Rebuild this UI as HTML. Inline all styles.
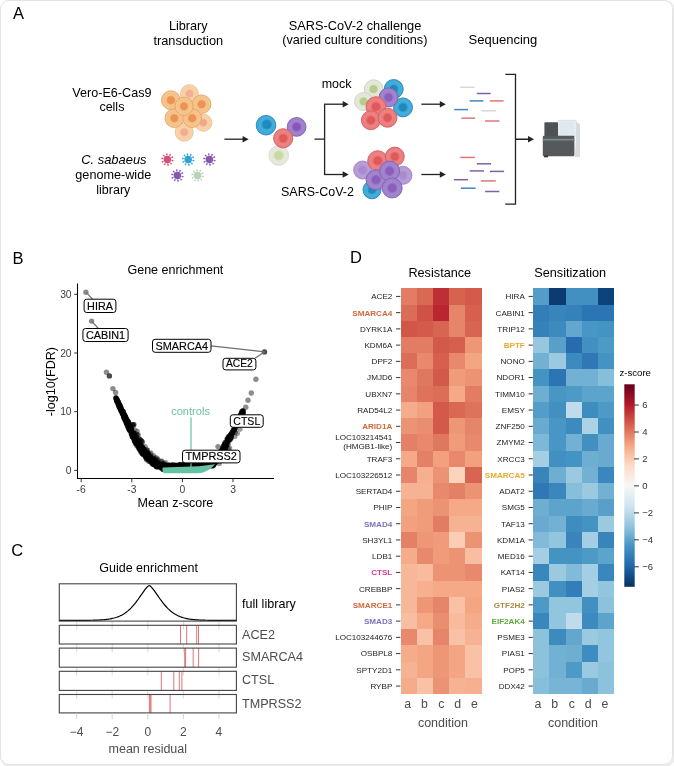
<!DOCTYPE html>
<html><head><meta charset="utf-8"><style>
html,body{margin:0;padding:0;background:#fff;}
#fig{position:relative;width:674px;height:766px;overflow:hidden;background:#fff;}
#frame{position:absolute;left:0;top:0;width:671px;height:763px;border:1px solid #e3e3e3;border-radius:9px;box-shadow:1px 1px 0 1px #ececec;}
svg{position:absolute;left:0;top:0;font-family:'Liberation Sans', Arial, Helvetica, sans-serif;will-change:transform;}
</style></head><body><div id="fig"><div id="frame"></div>
<svg width="674" height="766" viewBox="0 0 674 766">
<text x="12.90" y="19.20" font-size="16.5" text-anchor="start" fill="#000">A</text>
<text x="188.30" y="30.00" font-size="12.7" text-anchor="middle" fill="#000">Library</text>
<text x="188.30" y="44.90" font-size="12.8" text-anchor="middle" fill="#000">transduction</text>
<g text-anchor="middle">
</g>
<g opacity="1.0">
<circle cx="189.4" cy="93.6" r="8.9" fill="#f8d3a8" stroke="#eec08e" stroke-width="0.9"/>
<circle cx="189.4" cy="93.6" r="6.2" fill="none" stroke="#f0c594" stroke-width="0.7" stroke-opacity="0.6"/>
<circle cx="189.4" cy="93.6" r="4.8" fill="url(#g0)"/>
</g>
<g opacity="1.0">
<circle cx="203.4" cy="122.7" r="8.5" fill="#f8d3a8" stroke="#eec08e" stroke-width="0.9"/>
<circle cx="203.4" cy="122.7" r="5.9" fill="none" stroke="#f0c594" stroke-width="0.7" stroke-opacity="0.6"/>
<circle cx="203.4" cy="122.7" r="4.6" fill="url(#g1)"/>
</g>
<g opacity="1.0">
<circle cx="184.2" cy="132.2" r="9.0" fill="#f8d3a8" stroke="#eec08e" stroke-width="0.9"/>
<circle cx="184.2" cy="132.2" r="6.3" fill="none" stroke="#f0c594" stroke-width="0.7" stroke-opacity="0.6"/>
<circle cx="184.2" cy="132.2" r="4.9" fill="url(#g0)"/>
</g>
<g opacity="1.0">
<circle cx="170.9" cy="100.2" r="9.4" fill="#f6c68e" stroke="#e2a566" stroke-width="0.9"/>
<circle cx="170.9" cy="100.2" r="6.6" fill="none" stroke="#eeb577" stroke-width="0.7" stroke-opacity="0.6"/>
<circle cx="170.9" cy="100.2" r="5.1" fill="url(#g2)"/>
</g>
<g opacity="1.0">
<circle cx="201.6" cy="104.2" r="9.3" fill="#f6c68e" stroke="#e2a566" stroke-width="0.9"/>
<circle cx="201.6" cy="104.2" r="6.5" fill="none" stroke="#eeb577" stroke-width="0.7" stroke-opacity="0.6"/>
<circle cx="201.6" cy="104.2" r="5.0" fill="url(#g2)"/>
</g>
<g opacity="1.0">
<circle cx="174.3" cy="118.2" r="9.3" fill="#f6c68e" stroke="#e2a566" stroke-width="0.9"/>
<circle cx="174.3" cy="118.2" r="6.5" fill="none" stroke="#eeb577" stroke-width="0.7" stroke-opacity="0.6"/>
<circle cx="174.3" cy="118.2" r="5.0" fill="url(#g2)"/>
</g>
<g opacity="1.0">
<circle cx="192.2" cy="118.2" r="9.3" fill="#f6c68e" stroke="#e2a566" stroke-width="0.9"/>
<circle cx="192.2" cy="118.2" r="6.5" fill="none" stroke="#eeb577" stroke-width="0.7" stroke-opacity="0.6"/>
<circle cx="192.2" cy="118.2" r="5.0" fill="url(#g2)"/>
</g>
<g opacity="1.0">
<circle cx="184.0" cy="106.3" r="9.1" fill="#f6c68e" stroke="#e2a566" stroke-width="0.9"/>
<circle cx="184.0" cy="106.3" r="6.4" fill="none" stroke="#eeb577" stroke-width="0.7" stroke-opacity="0.6"/>
<circle cx="184.0" cy="106.3" r="4.9" fill="url(#g2)"/>
</g>
<g opacity="1.0">
<circle cx="167.4" cy="159.5" r="3.7" fill="#d2436e" fill-opacity="0.92"/>
<line x1="170.83" y1="160.20" x2="172.79" y2="160.59" stroke="#d2436e" stroke-width="0.7" stroke-opacity="0.8"/>
<circle cx="172.79" cy="160.59" r="0.85" fill="#d2436e" fill-opacity="0.85"/>
<line x1="169.77" y1="162.08" x2="171.12" y2="163.55" stroke="#d2436e" stroke-width="0.7" stroke-opacity="0.8"/>
<circle cx="171.12" cy="163.55" r="0.85" fill="#d2436e" fill-opacity="0.85"/>
<line x1="167.80" y1="162.98" x2="168.03" y2="164.96" stroke="#d2436e" stroke-width="0.7" stroke-opacity="0.8"/>
<circle cx="168.03" cy="164.96" r="0.85" fill="#d2436e" fill-opacity="0.85"/>
<line x1="165.68" y1="162.55" x2="164.70" y2="164.29" stroke="#d2436e" stroke-width="0.7" stroke-opacity="0.8"/>
<circle cx="164.70" cy="164.29" r="0.85" fill="#d2436e" fill-opacity="0.85"/>
<line x1="164.22" y1="160.95" x2="162.40" y2="161.78" stroke="#d2436e" stroke-width="0.7" stroke-opacity="0.8"/>
<circle cx="162.40" cy="161.78" r="0.85" fill="#d2436e" fill-opacity="0.85"/>
<line x1="163.97" y1="158.80" x2="162.01" y2="158.41" stroke="#d2436e" stroke-width="0.7" stroke-opacity="0.8"/>
<circle cx="162.01" cy="158.41" r="0.85" fill="#d2436e" fill-opacity="0.85"/>
<line x1="165.03" y1="156.92" x2="163.68" y2="155.45" stroke="#d2436e" stroke-width="0.7" stroke-opacity="0.8"/>
<circle cx="163.68" cy="155.45" r="0.85" fill="#d2436e" fill-opacity="0.85"/>
<line x1="167.00" y1="156.02" x2="166.77" y2="154.04" stroke="#d2436e" stroke-width="0.7" stroke-opacity="0.8"/>
<circle cx="166.77" cy="154.04" r="0.85" fill="#d2436e" fill-opacity="0.85"/>
<line x1="169.12" y1="156.45" x2="170.10" y2="154.71" stroke="#d2436e" stroke-width="0.7" stroke-opacity="0.8"/>
<circle cx="170.10" cy="154.71" r="0.85" fill="#d2436e" fill-opacity="0.85"/>
<line x1="170.58" y1="158.05" x2="172.40" y2="157.22" stroke="#d2436e" stroke-width="0.7" stroke-opacity="0.8"/>
<circle cx="172.40" cy="157.22" r="0.85" fill="#d2436e" fill-opacity="0.85"/>
</g>
<g opacity="1.0">
<circle cx="188.2" cy="159.5" r="3.7" fill="#1e9bd0" fill-opacity="0.92"/>
<line x1="191.63" y1="160.20" x2="193.59" y2="160.59" stroke="#1e9bd0" stroke-width="0.7" stroke-opacity="0.8"/>
<circle cx="193.59" cy="160.59" r="0.85" fill="#1e9bd0" fill-opacity="0.85"/>
<line x1="190.57" y1="162.08" x2="191.92" y2="163.55" stroke="#1e9bd0" stroke-width="0.7" stroke-opacity="0.8"/>
<circle cx="191.92" cy="163.55" r="0.85" fill="#1e9bd0" fill-opacity="0.85"/>
<line x1="188.60" y1="162.98" x2="188.83" y2="164.96" stroke="#1e9bd0" stroke-width="0.7" stroke-opacity="0.8"/>
<circle cx="188.83" cy="164.96" r="0.85" fill="#1e9bd0" fill-opacity="0.85"/>
<line x1="186.48" y1="162.55" x2="185.50" y2="164.29" stroke="#1e9bd0" stroke-width="0.7" stroke-opacity="0.8"/>
<circle cx="185.50" cy="164.29" r="0.85" fill="#1e9bd0" fill-opacity="0.85"/>
<line x1="185.02" y1="160.95" x2="183.20" y2="161.78" stroke="#1e9bd0" stroke-width="0.7" stroke-opacity="0.8"/>
<circle cx="183.20" cy="161.78" r="0.85" fill="#1e9bd0" fill-opacity="0.85"/>
<line x1="184.77" y1="158.80" x2="182.81" y2="158.41" stroke="#1e9bd0" stroke-width="0.7" stroke-opacity="0.8"/>
<circle cx="182.81" cy="158.41" r="0.85" fill="#1e9bd0" fill-opacity="0.85"/>
<line x1="185.83" y1="156.92" x2="184.48" y2="155.45" stroke="#1e9bd0" stroke-width="0.7" stroke-opacity="0.8"/>
<circle cx="184.48" cy="155.45" r="0.85" fill="#1e9bd0" fill-opacity="0.85"/>
<line x1="187.80" y1="156.02" x2="187.57" y2="154.04" stroke="#1e9bd0" stroke-width="0.7" stroke-opacity="0.8"/>
<circle cx="187.57" cy="154.04" r="0.85" fill="#1e9bd0" fill-opacity="0.85"/>
<line x1="189.92" y1="156.45" x2="190.90" y2="154.71" stroke="#1e9bd0" stroke-width="0.7" stroke-opacity="0.8"/>
<circle cx="190.90" cy="154.71" r="0.85" fill="#1e9bd0" fill-opacity="0.85"/>
<line x1="191.38" y1="158.05" x2="193.20" y2="157.22" stroke="#1e9bd0" stroke-width="0.7" stroke-opacity="0.8"/>
<circle cx="193.20" cy="157.22" r="0.85" fill="#1e9bd0" fill-opacity="0.85"/>
</g>
<g opacity="1.0">
<circle cx="209.4" cy="159.5" r="3.7" fill="#7a4aa8" fill-opacity="0.92"/>
<line x1="212.83" y1="160.20" x2="214.79" y2="160.59" stroke="#7a4aa8" stroke-width="0.7" stroke-opacity="0.8"/>
<circle cx="214.79" cy="160.59" r="0.85" fill="#7a4aa8" fill-opacity="0.85"/>
<line x1="211.77" y1="162.08" x2="213.12" y2="163.55" stroke="#7a4aa8" stroke-width="0.7" stroke-opacity="0.8"/>
<circle cx="213.12" cy="163.55" r="0.85" fill="#7a4aa8" fill-opacity="0.85"/>
<line x1="209.80" y1="162.98" x2="210.03" y2="164.96" stroke="#7a4aa8" stroke-width="0.7" stroke-opacity="0.8"/>
<circle cx="210.03" cy="164.96" r="0.85" fill="#7a4aa8" fill-opacity="0.85"/>
<line x1="207.68" y1="162.55" x2="206.70" y2="164.29" stroke="#7a4aa8" stroke-width="0.7" stroke-opacity="0.8"/>
<circle cx="206.70" cy="164.29" r="0.85" fill="#7a4aa8" fill-opacity="0.85"/>
<line x1="206.22" y1="160.95" x2="204.40" y2="161.78" stroke="#7a4aa8" stroke-width="0.7" stroke-opacity="0.8"/>
<circle cx="204.40" cy="161.78" r="0.85" fill="#7a4aa8" fill-opacity="0.85"/>
<line x1="205.97" y1="158.80" x2="204.01" y2="158.41" stroke="#7a4aa8" stroke-width="0.7" stroke-opacity="0.8"/>
<circle cx="204.01" cy="158.41" r="0.85" fill="#7a4aa8" fill-opacity="0.85"/>
<line x1="207.03" y1="156.92" x2="205.68" y2="155.45" stroke="#7a4aa8" stroke-width="0.7" stroke-opacity="0.8"/>
<circle cx="205.68" cy="155.45" r="0.85" fill="#7a4aa8" fill-opacity="0.85"/>
<line x1="209.00" y1="156.02" x2="208.77" y2="154.04" stroke="#7a4aa8" stroke-width="0.7" stroke-opacity="0.8"/>
<circle cx="208.77" cy="154.04" r="0.85" fill="#7a4aa8" fill-opacity="0.85"/>
<line x1="211.12" y1="156.45" x2="212.10" y2="154.71" stroke="#7a4aa8" stroke-width="0.7" stroke-opacity="0.8"/>
<circle cx="212.10" cy="154.71" r="0.85" fill="#7a4aa8" fill-opacity="0.85"/>
<line x1="212.58" y1="158.05" x2="214.40" y2="157.22" stroke="#7a4aa8" stroke-width="0.7" stroke-opacity="0.8"/>
<circle cx="214.40" cy="157.22" r="0.85" fill="#7a4aa8" fill-opacity="0.85"/>
</g>
<g opacity="1.0">
<circle cx="177.4" cy="175.5" r="3.7" fill="#7a4aa8" fill-opacity="0.92"/>
<line x1="180.83" y1="176.20" x2="182.79" y2="176.59" stroke="#7a4aa8" stroke-width="0.7" stroke-opacity="0.8"/>
<circle cx="182.79" cy="176.59" r="0.85" fill="#7a4aa8" fill-opacity="0.85"/>
<line x1="179.77" y1="178.08" x2="181.12" y2="179.55" stroke="#7a4aa8" stroke-width="0.7" stroke-opacity="0.8"/>
<circle cx="181.12" cy="179.55" r="0.85" fill="#7a4aa8" fill-opacity="0.85"/>
<line x1="177.80" y1="178.98" x2="178.03" y2="180.96" stroke="#7a4aa8" stroke-width="0.7" stroke-opacity="0.8"/>
<circle cx="178.03" cy="180.96" r="0.85" fill="#7a4aa8" fill-opacity="0.85"/>
<line x1="175.68" y1="178.55" x2="174.70" y2="180.29" stroke="#7a4aa8" stroke-width="0.7" stroke-opacity="0.8"/>
<circle cx="174.70" cy="180.29" r="0.85" fill="#7a4aa8" fill-opacity="0.85"/>
<line x1="174.22" y1="176.95" x2="172.40" y2="177.78" stroke="#7a4aa8" stroke-width="0.7" stroke-opacity="0.8"/>
<circle cx="172.40" cy="177.78" r="0.85" fill="#7a4aa8" fill-opacity="0.85"/>
<line x1="173.97" y1="174.80" x2="172.01" y2="174.41" stroke="#7a4aa8" stroke-width="0.7" stroke-opacity="0.8"/>
<circle cx="172.01" cy="174.41" r="0.85" fill="#7a4aa8" fill-opacity="0.85"/>
<line x1="175.03" y1="172.92" x2="173.68" y2="171.45" stroke="#7a4aa8" stroke-width="0.7" stroke-opacity="0.8"/>
<circle cx="173.68" cy="171.45" r="0.85" fill="#7a4aa8" fill-opacity="0.85"/>
<line x1="177.00" y1="172.02" x2="176.77" y2="170.04" stroke="#7a4aa8" stroke-width="0.7" stroke-opacity="0.8"/>
<circle cx="176.77" cy="170.04" r="0.85" fill="#7a4aa8" fill-opacity="0.85"/>
<line x1="179.12" y1="172.45" x2="180.10" y2="170.71" stroke="#7a4aa8" stroke-width="0.7" stroke-opacity="0.8"/>
<circle cx="180.10" cy="170.71" r="0.85" fill="#7a4aa8" fill-opacity="0.85"/>
<line x1="180.58" y1="174.05" x2="182.40" y2="173.22" stroke="#7a4aa8" stroke-width="0.7" stroke-opacity="0.8"/>
<circle cx="182.40" cy="173.22" r="0.85" fill="#7a4aa8" fill-opacity="0.85"/>
</g>
<g opacity="0.9">
<circle cx="197.6" cy="175.5" r="3.7" fill="#a9cba9" fill-opacity="0.92"/>
<line x1="201.03" y1="176.20" x2="202.99" y2="176.59" stroke="#a9cba9" stroke-width="0.7" stroke-opacity="0.8"/>
<circle cx="202.99" cy="176.59" r="0.85" fill="#a9cba9" fill-opacity="0.85"/>
<line x1="199.97" y1="178.08" x2="201.32" y2="179.55" stroke="#a9cba9" stroke-width="0.7" stroke-opacity="0.8"/>
<circle cx="201.32" cy="179.55" r="0.85" fill="#a9cba9" fill-opacity="0.85"/>
<line x1="198.00" y1="178.98" x2="198.23" y2="180.96" stroke="#a9cba9" stroke-width="0.7" stroke-opacity="0.8"/>
<circle cx="198.23" cy="180.96" r="0.85" fill="#a9cba9" fill-opacity="0.85"/>
<line x1="195.88" y1="178.55" x2="194.90" y2="180.29" stroke="#a9cba9" stroke-width="0.7" stroke-opacity="0.8"/>
<circle cx="194.90" cy="180.29" r="0.85" fill="#a9cba9" fill-opacity="0.85"/>
<line x1="194.42" y1="176.95" x2="192.60" y2="177.78" stroke="#a9cba9" stroke-width="0.7" stroke-opacity="0.8"/>
<circle cx="192.60" cy="177.78" r="0.85" fill="#a9cba9" fill-opacity="0.85"/>
<line x1="194.17" y1="174.80" x2="192.21" y2="174.41" stroke="#a9cba9" stroke-width="0.7" stroke-opacity="0.8"/>
<circle cx="192.21" cy="174.41" r="0.85" fill="#a9cba9" fill-opacity="0.85"/>
<line x1="195.23" y1="172.92" x2="193.88" y2="171.45" stroke="#a9cba9" stroke-width="0.7" stroke-opacity="0.8"/>
<circle cx="193.88" cy="171.45" r="0.85" fill="#a9cba9" fill-opacity="0.85"/>
<line x1="197.20" y1="172.02" x2="196.97" y2="170.04" stroke="#a9cba9" stroke-width="0.7" stroke-opacity="0.8"/>
<circle cx="196.97" cy="170.04" r="0.85" fill="#a9cba9" fill-opacity="0.85"/>
<line x1="199.32" y1="172.45" x2="200.30" y2="170.71" stroke="#a9cba9" stroke-width="0.7" stroke-opacity="0.8"/>
<circle cx="200.30" cy="170.71" r="0.85" fill="#a9cba9" fill-opacity="0.85"/>
<line x1="200.78" y1="174.05" x2="202.60" y2="173.22" stroke="#a9cba9" stroke-width="0.7" stroke-opacity="0.8"/>
<circle cx="202.60" cy="173.22" r="0.85" fill="#a9cba9" fill-opacity="0.85"/>
</g>
<text x="111.90" y="96.50" font-size="12.6" text-anchor="middle" fill="#000">Vero-E6-Cas9</text>
<text x="111.90" y="111.30" font-size="12.5" text-anchor="middle" fill="#000">cells</text>
<text x="113.90" y="163.80" font-size="12.9" text-anchor="middle" fill="#000" font-style="italic">C. sabaeus</text>
<text x="113.30" y="179.00" font-size="12.65" text-anchor="middle" fill="#000">genome-wide</text>
<text x="113.30" y="193.60" font-size="12.5" text-anchor="middle" fill="#000">library</text>
<text x="355.00" y="30.20" font-size="12.75" text-anchor="middle" fill="#000">SARS-CoV-2 challenge</text>
<text x="354.80" y="44.20" font-size="12.7" text-anchor="middle" fill="#000">(varied culture conditions)</text>
<text x="502.90" y="44.30" font-size="13.0" text-anchor="middle" fill="#000">Sequencing</text>
<line x1="224.4" y1="139.2" x2="243.1" y2="139.2" stroke="#222" stroke-width="1.3"/>
<path d="M248.6,139.2 L242.6,136.0 L242.6,142.39999999999998 Z" fill="#222"/>
<g opacity="1.0">
<circle cx="278.7" cy="155.5" r="9.8" fill="#e6eade" stroke="#d3dbc9" stroke-width="0.9"/>
<circle cx="278.7" cy="155.5" r="6.9" fill="none" stroke="#dde3d3" stroke-width="0.7" stroke-opacity="0.6"/>
<circle cx="278.7" cy="155.5" r="5.8" fill="url(#g3)"/>
</g>
<g opacity="1.0">
<circle cx="266.0" cy="125.2" r="9.8" fill="#42aad8" stroke="#2387ba" stroke-width="0.9"/>
<circle cx="266.8" cy="124.4" r="6.9" fill="none" stroke="#5ab6df" stroke-width="0.7" stroke-opacity="0.6"/>
<circle cx="266.8" cy="124.4" r="5.6" fill="url(#g4)"/>
</g>
<g opacity="1.0">
<circle cx="296.6" cy="126.9" r="9.4" fill="#9e80cc" stroke="#7c5eae" stroke-width="0.9"/>
<circle cx="296.6" cy="126.9" r="6.6" fill="none" stroke="#aa8cd1" stroke-width="0.7" stroke-opacity="0.6"/>
<circle cx="296.6" cy="126.9" r="5.2" fill="url(#g5)"/>
</g>
<g opacity="1.0">
<circle cx="283.2" cy="138.3" r="9.6" fill="#eb7e7e" stroke="#d15c5c" stroke-width="0.9"/>
<circle cx="283.2" cy="138.3" r="6.7" fill="none" stroke="#ef8f8f" stroke-width="0.7" stroke-opacity="0.6"/>
<circle cx="283.2" cy="138.3" r="5.2" fill="url(#g6)"/>
</g>
<path d="M314.5,139.2 H324.6 M324.6,104.2 V174.5" stroke="#222" stroke-width="1.3" fill="none"/>
<line x1="324.0" y1="104.2" x2="343.2" y2="104.2" stroke="#222" stroke-width="1.3"/>
<path d="M348.7,104.2 L342.7,101.0 L342.7,107.4 Z" fill="#222"/>
<line x1="324.0" y1="174.5" x2="343.2" y2="174.5" stroke="#222" stroke-width="1.3"/>
<path d="M348.7,174.5 L342.7,171.3 L342.7,177.7 Z" fill="#222"/>
<text x="336.60" y="87.80" font-size="12.5" text-anchor="middle" fill="#000">mock</text>
<text x="317.50" y="195.60" font-size="12.5" text-anchor="middle" fill="#000">SARS-CoV-2</text>
<g opacity="1.0">
<circle cx="373.6" cy="89.1" r="9.3" fill="#e3e8da" stroke="#cbd4c0" stroke-width="0.9"/>
<circle cx="373.6" cy="89.1" r="6.5" fill="none" stroke="#dae2cf" stroke-width="0.7" stroke-opacity="0.6"/>
<circle cx="373.6" cy="89.1" r="5.0" fill="url(#g7)"/>
</g>
<g opacity="1.0">
<circle cx="363.6" cy="101.5" r="9.0" fill="#e3e8da" stroke="#cbd4c0" stroke-width="0.9"/>
<circle cx="363.6" cy="101.5" r="6.3" fill="none" stroke="#dae2cf" stroke-width="0.7" stroke-opacity="0.6"/>
<circle cx="363.6" cy="101.5" r="4.9" fill="url(#g7)"/>
</g>
<g opacity="1.0">
<circle cx="393.7" cy="89.0" r="9.5" fill="#42aad8" stroke="#2387ba" stroke-width="0.9"/>
<circle cx="393.7" cy="89.0" r="6.6" fill="none" stroke="#5ab6df" stroke-width="0.7" stroke-opacity="0.6"/>
<circle cx="393.7" cy="89.0" r="5.1" fill="url(#g4)"/>
</g>
<g opacity="1.0">
<circle cx="403.0" cy="107.4" r="9.5" fill="#42aad8" stroke="#2387ba" stroke-width="0.9"/>
<circle cx="403.0" cy="107.4" r="6.6" fill="none" stroke="#5ab6df" stroke-width="0.7" stroke-opacity="0.6"/>
<circle cx="403.0" cy="107.4" r="5.1" fill="url(#g4)"/>
</g>
<g opacity="1.0">
<circle cx="388.5" cy="97.4" r="9.5" fill="#9f82cb" stroke="#7f62ae" stroke-width="0.9"/>
<circle cx="388.5" cy="97.4" r="6.6" fill="none" stroke="#ab8fd0" stroke-width="0.7" stroke-opacity="0.6"/>
<circle cx="388.5" cy="97.4" r="5.1" fill="url(#g8)"/>
</g>
<g opacity="1.0">
<circle cx="376.0" cy="106.7" r="10.0" fill="#eb7e7e" stroke="#d15c5c" stroke-width="0.9"/>
<circle cx="376.0" cy="106.7" r="7.0" fill="none" stroke="#ef8f8f" stroke-width="0.7" stroke-opacity="0.6"/>
<circle cx="376.0" cy="106.7" r="5.4" fill="url(#g6)"/>
</g>
<g opacity="1.0">
<circle cx="370.9" cy="120.2" r="9.5" fill="#eb7e7e" stroke="#d15c5c" stroke-width="0.9"/>
<circle cx="370.9" cy="120.2" r="6.6" fill="none" stroke="#ef8f8f" stroke-width="0.7" stroke-opacity="0.6"/>
<circle cx="370.9" cy="120.2" r="5.1" fill="url(#g6)"/>
</g>
<g opacity="1.0">
<circle cx="387.5" cy="117.7" r="9.5" fill="#eb7e7e" stroke="#d15c5c" stroke-width="0.9"/>
<circle cx="387.5" cy="117.7" r="6.6" fill="none" stroke="#ef8f8f" stroke-width="0.7" stroke-opacity="0.6"/>
<circle cx="387.5" cy="117.7" r="5.1" fill="url(#g6)"/>
</g>
<g opacity="1.0">
<circle cx="362.6" cy="170.0" r="9.0" fill="#b69ad8" stroke="#9f86c6" stroke-width="0.9"/>
<circle cx="362.6" cy="170.0" r="6.3" fill="none" stroke="#c0a8de" stroke-width="0.7" stroke-opacity="0.6"/>
<circle cx="362.6" cy="170.0" r="4.9" fill="url(#g9)"/>
</g>
<g opacity="1.0">
<circle cx="403.0" cy="175.3" r="9.0" fill="#b69ad8" stroke="#9f86c6" stroke-width="0.9"/>
<circle cx="403.0" cy="175.3" r="6.3" fill="none" stroke="#c0a8de" stroke-width="0.7" stroke-opacity="0.6"/>
<circle cx="403.0" cy="175.3" r="4.9" fill="url(#g9)"/>
</g>
<g opacity="1.0">
<circle cx="377.7" cy="160.7" r="10.0" fill="#eb7e7e" stroke="#d15c5c" stroke-width="0.9"/>
<circle cx="377.7" cy="160.7" r="7.0" fill="none" stroke="#ef8f8f" stroke-width="0.7" stroke-opacity="0.6"/>
<circle cx="377.7" cy="160.7" r="5.4" fill="url(#g6)"/>
</g>
<g opacity="1.0">
<circle cx="394.8" cy="156.6" r="9.5" fill="#eb7e7e" stroke="#d15c5c" stroke-width="0.9"/>
<circle cx="394.8" cy="156.6" r="6.6" fill="none" stroke="#ef8f8f" stroke-width="0.7" stroke-opacity="0.6"/>
<circle cx="394.8" cy="156.6" r="5.1" fill="url(#g6)"/>
</g>
<g opacity="1.0">
<circle cx="372.0" cy="189.8" r="9.0" fill="#42aad8" stroke="#2387ba" stroke-width="0.9"/>
<circle cx="372.0" cy="189.8" r="6.3" fill="none" stroke="#5ab6df" stroke-width="0.7" stroke-opacity="0.6"/>
<circle cx="372.0" cy="189.8" r="4.9" fill="url(#g4)"/>
</g>
<g opacity="1.0">
<circle cx="376.0" cy="179.8" r="10.0" fill="#9f82cb" stroke="#7f62ae" stroke-width="0.9"/>
<circle cx="376.0" cy="179.8" r="7.0" fill="none" stroke="#ab8fd0" stroke-width="0.7" stroke-opacity="0.6"/>
<circle cx="376.0" cy="179.8" r="5.4" fill="url(#g8)"/>
</g>
<g opacity="1.0">
<circle cx="389.6" cy="171.0" r="10.0" fill="#9f82cb" stroke="#7f62ae" stroke-width="0.9"/>
<circle cx="389.6" cy="171.0" r="7.0" fill="none" stroke="#ab8fd0" stroke-width="0.7" stroke-opacity="0.6"/>
<circle cx="389.6" cy="171.0" r="5.4" fill="url(#g8)"/>
</g>
<g opacity="1.0">
<circle cx="392.2" cy="188.0" r="10.0" fill="#9f82cb" stroke="#7f62ae" stroke-width="0.9"/>
<circle cx="392.2" cy="188.0" r="7.0" fill="none" stroke="#ab8fd0" stroke-width="0.7" stroke-opacity="0.6"/>
<circle cx="392.2" cy="188.0" r="5.4" fill="url(#g8)"/>
</g>
<line x1="421.4" y1="104.2" x2="440.3" y2="104.2" stroke="#222" stroke-width="1.3"/>
<path d="M445.8,104.2 L439.8,101.0 L439.8,107.4 Z" fill="#222"/>
<line x1="421.4" y1="174.5" x2="440.3" y2="174.5" stroke="#222" stroke-width="1.3"/>
<path d="M445.8,174.5 L439.8,171.3 L439.8,177.7 Z" fill="#222"/>
<line x1="460.2" y1="87.3" x2="474.4" y2="87.3" stroke="#d5d9d6" stroke-width="1.5"/>
<line x1="476.8" y1="93.5" x2="490.6" y2="93.5" stroke="#7f5fa8" stroke-width="1.5"/>
<line x1="469.7" y1="100.9" x2="483.4" y2="100.9" stroke="#3f86c2" stroke-width="1.5"/>
<line x1="489.9" y1="100.9" x2="503.6" y2="100.9" stroke="#e07676" stroke-width="1.5"/>
<line x1="454.2" y1="109.6" x2="468.0" y2="109.6" stroke="#3f86c2" stroke-width="1.5"/>
<line x1="481.5" y1="110.8" x2="495.8" y2="110.8" stroke="#d5d9d6" stroke-width="1.5"/>
<line x1="461.4" y1="118.2" x2="475.1" y2="118.2" stroke="#e07676" stroke-width="1.5"/>
<line x1="485.1" y1="121.0" x2="499.4" y2="121.0" stroke="#e07676" stroke-width="1.5"/>
<line x1="460.2" y1="157.4" x2="474.9" y2="157.4" stroke="#e07676" stroke-width="1.5"/>
<line x1="476.8" y1="163.8" x2="491.0" y2="163.8" stroke="#7f5fa8" stroke-width="1.5"/>
<line x1="469.7" y1="170.9" x2="483.9" y2="170.9" stroke="#7f5fa8" stroke-width="1.5"/>
<line x1="489.9" y1="171.4" x2="504.1" y2="171.4" stroke="#7f5fa8" stroke-width="1.5"/>
<line x1="453.8" y1="179.7" x2="468.0" y2="179.7" stroke="#7f5fa8" stroke-width="1.5"/>
<line x1="480.8" y1="180.9" x2="495.8" y2="180.9" stroke="#e07676" stroke-width="1.5"/>
<line x1="460.9" y1="188.2" x2="475.6" y2="188.2" stroke="#3f86c2" stroke-width="1.5"/>
<line x1="485.1" y1="191.5" x2="499.4" y2="191.5" stroke="#7f5fa8" stroke-width="1.5"/>
<path d="M505.3,74.3 H515.5 V204.1 H505.3 M515.5,139.3 H528" stroke="#222" stroke-width="1.3" fill="none"/>
<line x1="515.0" y1="139.3" x2="528.5" y2="139.3" stroke="#222" stroke-width="1.3"/>
<path d="M534.0,139.3 L528.0,136.10000000000002 L528.0,142.5 Z" fill="#222"/>
<g>
<rect x="557.5" y="120.3" width="19" height="16" rx="1.5" fill="#e9ecee" stroke="#cfd3d6" stroke-width="0.6"/>
<rect x="559.5" y="122" width="14.5" height="12.5" fill="#dfe8ee"/>
<path d="M576.5,122 L580,124 L580,157 L575,157 Z" fill="#d8dbde"/>
<rect x="544.4" y="122.2" width="13.6" height="14.5" rx="1" fill="#4e5254"/>
<rect x="542.8" y="135.8" width="31.6" height="20.4" rx="1.2" fill="#55595b"/>
<rect x="542.8" y="138.8" width="31.6" height="1.7" fill="#768e90"/>
<rect x="544" y="155.5" width="4" height="1.8" fill="#333"/>
</g>
<text x="12.60" y="263.60" font-size="16.5" text-anchor="start" fill="#000">B</text>
<text x="175.40" y="274.20" font-size="12.5" text-anchor="middle" fill="#000">Gene enrichment</text>
<path d="M77.5,283.5 V478.5 H274" stroke="#000" stroke-width="1.05" fill="none"/>
<line x1="74.2" y1="470.4" x2="77.6" y2="470.4" stroke="#333" stroke-width="1"/>
<text x="71.60" y="474.00" font-size="10.3" text-anchor="end" fill="#3d3d3d">0</text>
<line x1="74.2" y1="411.7" x2="77.6" y2="411.7" stroke="#333" stroke-width="1"/>
<text x="71.60" y="415.30" font-size="10.3" text-anchor="end" fill="#3d3d3d">10</text>
<line x1="74.2" y1="353.0" x2="77.6" y2="353.0" stroke="#333" stroke-width="1"/>
<text x="71.60" y="356.60" font-size="10.3" text-anchor="end" fill="#3d3d3d">20</text>
<line x1="74.2" y1="294.3" x2="77.6" y2="294.3" stroke="#333" stroke-width="1"/>
<text x="71.60" y="297.90" font-size="10.3" text-anchor="end" fill="#3d3d3d">30</text>
<line x1="81.2" y1="478.5" x2="81.2" y2="482.2" stroke="#333" stroke-width="1"/>
<text x="81.18" y="492.90" font-size="10.3" text-anchor="middle" fill="#3d3d3d">-6</text>
<line x1="131.8" y1="478.5" x2="131.8" y2="482.2" stroke="#333" stroke-width="1"/>
<text x="131.79" y="492.90" font-size="10.3" text-anchor="middle" fill="#3d3d3d">-3</text>
<line x1="182.4" y1="478.5" x2="182.4" y2="482.2" stroke="#333" stroke-width="1"/>
<text x="182.40" y="492.90" font-size="10.3" text-anchor="middle" fill="#3d3d3d">0</text>
<line x1="233.0" y1="478.5" x2="233.0" y2="482.2" stroke="#333" stroke-width="1"/>
<text x="233.01" y="492.90" font-size="10.3" text-anchor="middle" fill="#3d3d3d">3</text>
<text x="175.40" y="506.80" font-size="12.5" text-anchor="middle" fill="#000">Mean z-score</text>
<text transform="translate(54.5,381.6) rotate(-90)" font-size="12.6" text-anchor="middle" fill="#000">-log10(FDR)</text>
<g fill="#000" fill-opacity="0.55">
<circle cx="136.6" cy="442.0" r="2.5"/>
<circle cx="176.8" cy="467.6" r="2.5"/>
<circle cx="139.6" cy="447.2" r="2.5"/>
<circle cx="124.1" cy="415.8" r="2.5"/>
<circle cx="146.9" cy="458.4" r="2.5"/>
<circle cx="120.2" cy="406.7" r="2.5"/>
<circle cx="119.3" cy="406.7" r="2.5"/>
<circle cx="154.8" cy="459.9" r="2.5"/>
<circle cx="183.3" cy="469.6" r="2.5"/>
<circle cx="149.6" cy="459.7" r="2.5"/>
<circle cx="123.8" cy="412.6" r="2.5"/>
<circle cx="142.9" cy="447.8" r="2.5"/>
<circle cx="124.9" cy="416.0" r="2.5"/>
<circle cx="117.1" cy="400.5" r="2.5"/>
<circle cx="134.9" cy="441.5" r="2.5"/>
<circle cx="140.0" cy="448.4" r="2.5"/>
<circle cx="138.9" cy="446.6" r="2.5"/>
<circle cx="137.9" cy="441.8" r="2.5"/>
<circle cx="185.0" cy="469.6" r="2.5"/>
<circle cx="167.7" cy="469.1" r="2.5"/>
<circle cx="131.0" cy="428.2" r="2.5"/>
<circle cx="130.2" cy="425.4" r="2.5"/>
<circle cx="160.3" cy="465.4" r="2.5"/>
<circle cx="168.4" cy="467.4" r="2.5"/>
<circle cx="180.6" cy="469.3" r="2.5"/>
<circle cx="116.1" cy="397.4" r="2.5"/>
<circle cx="175.3" cy="467.8" r="2.5"/>
<circle cx="182.8" cy="466.7" r="2.5"/>
<circle cx="118.8" cy="404.8" r="2.5"/>
<circle cx="161.8" cy="465.3" r="2.5"/>
<circle cx="119.8" cy="406.1" r="2.5"/>
<circle cx="181.3" cy="468.7" r="2.5"/>
<circle cx="121.4" cy="409.0" r="2.5"/>
<circle cx="120.9" cy="407.2" r="2.5"/>
<circle cx="163.8" cy="465.7" r="2.5"/>
<circle cx="143.4" cy="451.4" r="2.5"/>
<circle cx="123.9" cy="416.6" r="2.5"/>
<circle cx="121.4" cy="410.6" r="2.5"/>
<circle cx="121.1" cy="409.0" r="2.5"/>
<circle cx="126.0" cy="418.3" r="2.5"/>
<circle cx="182.0" cy="468.9" r="2.5"/>
<circle cx="128.6" cy="428.0" r="2.5"/>
<circle cx="125.6" cy="418.2" r="2.5"/>
<circle cx="169.2" cy="468.7" r="2.5"/>
<circle cx="119.4" cy="407.8" r="2.5"/>
<circle cx="126.0" cy="418.3" r="2.5"/>
<circle cx="161.1" cy="465.3" r="2.5"/>
<circle cx="130.5" cy="426.1" r="2.5"/>
<circle cx="119.6" cy="406.5" r="2.5"/>
<circle cx="126.6" cy="421.6" r="2.5"/>
<circle cx="132.9" cy="434.1" r="2.5"/>
<circle cx="180.6" cy="467.4" r="2.5"/>
<circle cx="142.8" cy="454.0" r="2.5"/>
<circle cx="124.7" cy="415.2" r="2.5"/>
<circle cx="175.3" cy="469.6" r="2.5"/>
<circle cx="127.9" cy="421.7" r="2.5"/>
<circle cx="156.5" cy="466.8" r="2.5"/>
<circle cx="123.7" cy="417.4" r="2.5"/>
<circle cx="172.3" cy="468.5" r="2.5"/>
<circle cx="136.4" cy="438.2" r="2.5"/>
<circle cx="116.9" cy="401.6" r="2.5"/>
<circle cx="126.1" cy="421.2" r="2.5"/>
<circle cx="126.7" cy="423.2" r="2.5"/>
<circle cx="146.6" cy="453.9" r="2.5"/>
<circle cx="123.2" cy="415.0" r="2.5"/>
<circle cx="119.2" cy="404.2" r="2.5"/>
<circle cx="141.8" cy="452.7" r="2.5"/>
<circle cx="147.9" cy="455.4" r="2.5"/>
<circle cx="175.9" cy="466.4" r="2.5"/>
<circle cx="116.8" cy="399.0" r="2.5"/>
<circle cx="138.0" cy="440.3" r="2.5"/>
<circle cx="124.0" cy="414.8" r="2.5"/>
<circle cx="145.5" cy="451.4" r="2.5"/>
<circle cx="131.0" cy="433.8" r="2.5"/>
<circle cx="183.0" cy="468.0" r="2.5"/>
<circle cx="152.9" cy="462.0" r="2.5"/>
<circle cx="122.9" cy="411.0" r="2.5"/>
<circle cx="116.2" cy="399.5" r="2.5"/>
<circle cx="152.6" cy="464.2" r="2.5"/>
<circle cx="116.6" cy="399.7" r="2.5"/>
<circle cx="137.6" cy="445.2" r="2.5"/>
<circle cx="128.9" cy="429.6" r="2.5"/>
<circle cx="119.0" cy="405.0" r="2.5"/>
<circle cx="156.4" cy="466.5" r="2.5"/>
<circle cx="156.8" cy="465.6" r="2.5"/>
<circle cx="161.9" cy="469.0" r="2.5"/>
<circle cx="131.3" cy="432.4" r="2.5"/>
<circle cx="174.3" cy="469.9" r="2.5"/>
<circle cx="133.8" cy="439.1" r="2.5"/>
<circle cx="170.2" cy="468.4" r="2.5"/>
<circle cx="148.2" cy="456.6" r="2.5"/>
<circle cx="144.4" cy="453.8" r="2.5"/>
<circle cx="119.1" cy="405.6" r="2.5"/>
<circle cx="184.5" cy="469.0" r="2.5"/>
<circle cx="156.8" cy="463.6" r="2.5"/>
<circle cx="156.8" cy="464.9" r="2.5"/>
<circle cx="134.9" cy="441.5" r="2.5"/>
<circle cx="119.1" cy="406.0" r="2.5"/>
<circle cx="117.0" cy="400.5" r="2.5"/>
<circle cx="139.4" cy="443.9" r="2.5"/>
<circle cx="153.8" cy="462.1" r="2.5"/>
<circle cx="145.4" cy="457.5" r="2.5"/>
<circle cx="128.7" cy="422.1" r="2.5"/>
<circle cx="129.0" cy="427.4" r="2.5"/>
<circle cx="125.7" cy="417.2" r="2.5"/>
<circle cx="174.8" cy="468.8" r="2.5"/>
<circle cx="134.8" cy="441.8" r="2.5"/>
<circle cx="130.2" cy="429.9" r="2.5"/>
<circle cx="124.9" cy="417.0" r="2.5"/>
<circle cx="163.2" cy="469.6" r="2.5"/>
<circle cx="172.0" cy="467.4" r="2.5"/>
<circle cx="145.6" cy="452.9" r="2.5"/>
<circle cx="121.9" cy="411.0" r="2.5"/>
<circle cx="167.4" cy="469.8" r="2.5"/>
<circle cx="153.5" cy="464.8" r="2.5"/>
<circle cx="129.3" cy="424.4" r="2.5"/>
<circle cx="137.5" cy="441.2" r="2.5"/>
<circle cx="125.7" cy="418.5" r="2.5"/>
<circle cx="147.8" cy="457.1" r="2.5"/>
<circle cx="129.2" cy="429.0" r="2.5"/>
<circle cx="183.0" cy="466.9" r="2.5"/>
<circle cx="119.7" cy="404.6" r="2.5"/>
<circle cx="171.2" cy="465.6" r="2.5"/>
<circle cx="154.5" cy="463.1" r="2.5"/>
<circle cx="129.0" cy="428.3" r="2.5"/>
<circle cx="117.0" cy="399.2" r="2.5"/>
<circle cx="138.6" cy="441.0" r="2.5"/>
<circle cx="166.6" cy="466.6" r="2.5"/>
<circle cx="122.9" cy="411.1" r="2.5"/>
<circle cx="148.3" cy="457.2" r="2.5"/>
<circle cx="147.5" cy="457.9" r="2.5"/>
<circle cx="163.3" cy="469.8" r="2.5"/>
<circle cx="153.6" cy="460.0" r="2.5"/>
<circle cx="139.3" cy="443.2" r="2.5"/>
<circle cx="116.3" cy="398.6" r="2.5"/>
<circle cx="156.2" cy="461.8" r="2.5"/>
<circle cx="128.6" cy="424.1" r="2.5"/>
<circle cx="153.7" cy="462.1" r="2.5"/>
<circle cx="146.0" cy="457.0" r="2.5"/>
<circle cx="132.7" cy="436.7" r="2.5"/>
<circle cx="174.9" cy="465.9" r="2.5"/>
<circle cx="177.8" cy="468.9" r="2.5"/>
<circle cx="121.7" cy="410.3" r="2.5"/>
<circle cx="146.2" cy="458.4" r="2.5"/>
<circle cx="132.8" cy="434.7" r="2.5"/>
<circle cx="171.9" cy="469.5" r="2.5"/>
<circle cx="179.0" cy="467.4" r="2.5"/>
<circle cx="150.7" cy="457.8" r="2.5"/>
<circle cx="154.9" cy="465.0" r="2.5"/>
<circle cx="148.0" cy="459.1" r="2.5"/>
<circle cx="124.5" cy="419.0" r="2.5"/>
<circle cx="183.1" cy="469.7" r="2.5"/>
<circle cx="140.6" cy="450.6" r="2.5"/>
<circle cx="129.2" cy="429.6" r="2.5"/>
<circle cx="169.4" cy="467.2" r="2.5"/>
<circle cx="119.5" cy="405.7" r="2.5"/>
<circle cx="141.6" cy="451.6" r="2.5"/>
<circle cx="140.6" cy="444.0" r="2.5"/>
<circle cx="165.3" cy="465.7" r="2.5"/>
<circle cx="164.1" cy="465.8" r="2.5"/>
<circle cx="130.2" cy="430.9" r="2.5"/>
<circle cx="122.7" cy="411.1" r="2.5"/>
<circle cx="139.6" cy="448.4" r="2.5"/>
<circle cx="167.7" cy="469.0" r="2.5"/>
<circle cx="179.1" cy="467.5" r="2.5"/>
<circle cx="179.3" cy="465.4" r="2.5"/>
<circle cx="125.8" cy="419.4" r="2.5"/>
<circle cx="128.4" cy="426.4" r="2.5"/>
<circle cx="148.6" cy="458.2" r="2.5"/>
<circle cx="168.1" cy="468.3" r="2.5"/>
<circle cx="130.4" cy="428.0" r="2.5"/>
<circle cx="168.2" cy="470.1" r="2.5"/>
<circle cx="124.4" cy="418.4" r="2.5"/>
<circle cx="181.6" cy="467.5" r="2.5"/>
<circle cx="145.3" cy="451.7" r="2.5"/>
<circle cx="141.6" cy="449.6" r="2.5"/>
<circle cx="148.3" cy="453.8" r="2.5"/>
<circle cx="181.7" cy="467.4" r="2.5"/>
<circle cx="133.0" cy="437.5" r="2.5"/>
<circle cx="143.5" cy="451.8" r="2.5"/>
<circle cx="154.5" cy="459.8" r="2.5"/>
<circle cx="142.1" cy="449.5" r="2.5"/>
<circle cx="180.6" cy="469.7" r="2.5"/>
<circle cx="128.1" cy="424.0" r="2.5"/>
<circle cx="121.5" cy="410.0" r="2.5"/>
<circle cx="165.0" cy="470.1" r="2.5"/>
<circle cx="138.8" cy="443.7" r="2.5"/>
<circle cx="124.2" cy="416.5" r="2.5"/>
<circle cx="176.7" cy="465.9" r="2.5"/>
<circle cx="162.4" cy="464.2" r="2.5"/>
<circle cx="125.1" cy="416.4" r="2.5"/>
<circle cx="153.4" cy="460.6" r="2.5"/>
<circle cx="131.6" cy="432.7" r="2.5"/>
<circle cx="120.0" cy="408.1" r="2.5"/>
<circle cx="121.2" cy="409.7" r="2.5"/>
<circle cx="128.0" cy="421.8" r="2.5"/>
<circle cx="141.5" cy="448.9" r="2.5"/>
<circle cx="133.2" cy="434.4" r="2.5"/>
<circle cx="142.6" cy="448.1" r="2.5"/>
<circle cx="124.7" cy="417.8" r="2.5"/>
<circle cx="148.6" cy="458.2" r="2.5"/>
<circle cx="168.9" cy="468.6" r="2.5"/>
<circle cx="169.5" cy="466.6" r="2.5"/>
<circle cx="156.9" cy="466.2" r="2.5"/>
<circle cx="174.5" cy="467.0" r="2.5"/>
<circle cx="128.9" cy="429.1" r="2.5"/>
<circle cx="124.5" cy="419.6" r="2.5"/>
<circle cx="172.8" cy="466.1" r="2.5"/>
<circle cx="126.1" cy="421.4" r="2.5"/>
<circle cx="128.6" cy="422.6" r="2.5"/>
<circle cx="166.8" cy="467.6" r="2.5"/>
<circle cx="163.3" cy="465.1" r="2.5"/>
<circle cx="133.5" cy="437.5" r="2.5"/>
<circle cx="116.9" cy="399.1" r="2.5"/>
<circle cx="151.2" cy="462.8" r="2.5"/>
<circle cx="181.4" cy="465.4" r="2.5"/>
<circle cx="138.8" cy="447.4" r="2.5"/>
<circle cx="138.9" cy="447.0" r="2.5"/>
<circle cx="125.2" cy="415.7" r="2.5"/>
<circle cx="121.2" cy="407.7" r="2.5"/>
<circle cx="142.6" cy="450.9" r="2.5"/>
<circle cx="145.2" cy="451.2" r="2.5"/>
<circle cx="124.7" cy="415.4" r="2.5"/>
<circle cx="167.7" cy="470.5" r="2.5"/>
<circle cx="176.9" cy="465.7" r="2.5"/>
<circle cx="117.9" cy="403.9" r="2.5"/>
<circle cx="136.4" cy="443.4" r="2.5"/>
<circle cx="130.8" cy="429.7" r="2.5"/>
<circle cx="140.7" cy="447.5" r="2.5"/>
<circle cx="148.0" cy="453.4" r="2.5"/>
<circle cx="153.0" cy="463.7" r="2.5"/>
<circle cx="124.1" cy="415.4" r="2.5"/>
<circle cx="157.6" cy="464.2" r="2.5"/>
<circle cx="125.3" cy="416.4" r="2.5"/>
<circle cx="142.1" cy="446.2" r="2.5"/>
<circle cx="173.5" cy="469.6" r="2.5"/>
<circle cx="153.2" cy="464.0" r="2.5"/>
<circle cx="148.4" cy="457.1" r="2.5"/>
<circle cx="146.0" cy="454.9" r="2.5"/>
<circle cx="183.3" cy="468.8" r="2.5"/>
<circle cx="126.5" cy="423.5" r="2.5"/>
<circle cx="157.4" cy="466.2" r="2.5"/>
<circle cx="165.1" cy="467.5" r="2.5"/>
<circle cx="173.8" cy="470.0" r="2.5"/>
<circle cx="152.7" cy="463.0" r="2.5"/>
<circle cx="160.2" cy="465.4" r="2.5"/>
<circle cx="157.3" cy="461.9" r="2.5"/>
<circle cx="131.5" cy="431.1" r="2.5"/>
<circle cx="116.4" cy="398.5" r="2.5"/>
<circle cx="148.2" cy="458.6" r="2.5"/>
<circle cx="125.3" cy="420.9" r="2.5"/>
<circle cx="151.5" cy="459.3" r="2.5"/>
<circle cx="150.3" cy="459.9" r="2.5"/>
<circle cx="141.8" cy="449.1" r="2.5"/>
<circle cx="185.1" cy="467.7" r="2.5"/>
<circle cx="153.3" cy="463.4" r="2.5"/>
<circle cx="182.6" cy="464.7" r="2.5"/>
<circle cx="146.1" cy="457.0" r="2.5"/>
<circle cx="127.7" cy="422.7" r="2.5"/>
<circle cx="118.4" cy="402.4" r="2.5"/>
<circle cx="134.3" cy="433.9" r="2.5"/>
<circle cx="126.2" cy="422.7" r="2.5"/>
<circle cx="142.5" cy="450.8" r="2.5"/>
<circle cx="181.5" cy="467.7" r="2.5"/>
<circle cx="184.5" cy="467.8" r="2.5"/>
<circle cx="165.3" cy="465.7" r="2.5"/>
<circle cx="144.8" cy="455.6" r="2.5"/>
<circle cx="117.2" cy="402.2" r="2.5"/>
<circle cx="123.0" cy="413.3" r="2.5"/>
<circle cx="123.4" cy="414.2" r="2.5"/>
<circle cx="148.6" cy="454.4" r="2.5"/>
<circle cx="179.0" cy="467.2" r="2.5"/>
<circle cx="140.6" cy="449.0" r="2.5"/>
<circle cx="133.2" cy="433.2" r="2.5"/>
<circle cx="149.9" cy="459.6" r="2.5"/>
<circle cx="128.1" cy="425.7" r="2.5"/>
<circle cx="130.7" cy="426.0" r="2.5"/>
<circle cx="128.1" cy="421.1" r="2.5"/>
<circle cx="122.3" cy="413.2" r="2.5"/>
<circle cx="132.2" cy="436.6" r="2.5"/>
<circle cx="159.3" cy="462.9" r="2.5"/>
<circle cx="184.0" cy="469.4" r="2.5"/>
<circle cx="118.4" cy="405.1" r="2.5"/>
<circle cx="135.6" cy="439.7" r="2.5"/>
<circle cx="182.0" cy="466.0" r="2.5"/>
<circle cx="139.1" cy="449.5" r="2.5"/>
<circle cx="156.0" cy="463.6" r="2.5"/>
<circle cx="182.9" cy="468.9" r="2.5"/>
<circle cx="147.8" cy="453.9" r="2.5"/>
<circle cx="147.9" cy="456.8" r="2.5"/>
<circle cx="126.0" cy="417.1" r="2.5"/>
<circle cx="142.6" cy="447.9" r="2.5"/>
<circle cx="135.6" cy="441.4" r="2.5"/>
<circle cx="137.8" cy="441.6" r="2.5"/>
<circle cx="145.1" cy="453.2" r="2.5"/>
<circle cx="161.2" cy="466.5" r="2.5"/>
<circle cx="185.0" cy="469.4" r="2.5"/>
<circle cx="157.8" cy="463.4" r="2.5"/>
<circle cx="120.2" cy="409.1" r="2.5"/>
<circle cx="161.7" cy="467.2" r="2.5"/>
<circle cx="132.9" cy="432.5" r="2.5"/>
<circle cx="152.5" cy="461.5" r="2.5"/>
<circle cx="144.9" cy="454.7" r="2.5"/>
<circle cx="159.5" cy="463.8" r="2.5"/>
<circle cx="125.9" cy="422.6" r="2.5"/>
<circle cx="176.1" cy="469.9" r="2.5"/>
<circle cx="118.0" cy="401.2" r="2.5"/>
<circle cx="128.3" cy="424.1" r="2.5"/>
<circle cx="149.2" cy="455.6" r="2.5"/>
<circle cx="143.6" cy="448.7" r="2.5"/>
<circle cx="119.3" cy="406.2" r="2.5"/>
<circle cx="142.1" cy="451.2" r="2.5"/>
<circle cx="132.9" cy="434.2" r="2.5"/>
<circle cx="125.7" cy="418.1" r="2.5"/>
<circle cx="157.3" cy="466.5" r="2.5"/>
<circle cx="119.6" cy="404.7" r="2.5"/>
<circle cx="164.1" cy="468.3" r="2.5"/>
<circle cx="161.0" cy="464.6" r="2.5"/>
<circle cx="136.0" cy="438.8" r="2.5"/>
<circle cx="164.7" cy="467.1" r="2.5"/>
<circle cx="148.4" cy="461.2" r="2.5"/>
<circle cx="130.5" cy="429.6" r="2.5"/>
<circle cx="157.2" cy="467.0" r="2.5"/>
<circle cx="135.8" cy="439.3" r="2.5"/>
<circle cx="119.5" cy="407.4" r="2.5"/>
<circle cx="119.8" cy="405.1" r="2.5"/>
<circle cx="143.6" cy="451.9" r="2.5"/>
<circle cx="153.3" cy="460.4" r="2.5"/>
<circle cx="161.9" cy="464.2" r="2.5"/>
<circle cx="125.1" cy="418.7" r="2.5"/>
<circle cx="119.6" cy="405.5" r="2.5"/>
<circle cx="155.5" cy="464.7" r="2.5"/>
<circle cx="129.7" cy="424.9" r="2.5"/>
<circle cx="131.4" cy="433.1" r="2.5"/>
<circle cx="133.8" cy="433.0" r="2.5"/>
<circle cx="154.6" cy="463.1" r="2.5"/>
<circle cx="176.4" cy="470.2" r="2.5"/>
<circle cx="175.6" cy="467.6" r="2.5"/>
<circle cx="164.2" cy="466.5" r="2.5"/>
<circle cx="130.6" cy="428.7" r="2.5"/>
<circle cx="178.1" cy="469.7" r="2.5"/>
<circle cx="127.4" cy="421.8" r="2.5"/>
<circle cx="132.9" cy="433.3" r="2.5"/>
<circle cx="134.2" cy="436.3" r="2.5"/>
<circle cx="124.5" cy="416.8" r="2.5"/>
<circle cx="163.1" cy="467.4" r="2.5"/>
<circle cx="167.3" cy="468.3" r="2.5"/>
<circle cx="123.2" cy="415.2" r="2.5"/>
<circle cx="172.1" cy="466.9" r="2.5"/>
<circle cx="116.7" cy="399.7" r="2.5"/>
<circle cx="141.9" cy="450.5" r="2.5"/>
<circle cx="181.4" cy="468.1" r="2.5"/>
<circle cx="164.8" cy="465.4" r="2.5"/>
<circle cx="141.2" cy="451.4" r="2.5"/>
<circle cx="120.1" cy="405.6" r="2.5"/>
<circle cx="156.4" cy="466.5" r="2.5"/>
<circle cx="119.3" cy="406.0" r="2.5"/>
<circle cx="121.8" cy="412.0" r="2.5"/>
<circle cx="150.3" cy="457.8" r="2.5"/>
<circle cx="125.2" cy="419.5" r="2.5"/>
<circle cx="139.7" cy="448.9" r="2.5"/>
<circle cx="134.3" cy="436.1" r="2.5"/>
<circle cx="181.7" cy="468.2" r="2.5"/>
<circle cx="139.0" cy="445.8" r="2.5"/>
<circle cx="155.1" cy="464.5" r="2.5"/>
<circle cx="175.8" cy="467.5" r="2.5"/>
<circle cx="166.2" cy="468.9" r="2.5"/>
<circle cx="169.1" cy="469.6" r="2.5"/>
<circle cx="167.0" cy="470.0" r="2.5"/>
<circle cx="180.5" cy="468.2" r="2.5"/>
<circle cx="140.0" cy="449.0" r="2.5"/>
<circle cx="163.9" cy="467.1" r="2.5"/>
<circle cx="136.3" cy="438.3" r="2.5"/>
<circle cx="156.6" cy="467.1" r="2.5"/>
<circle cx="134.0" cy="434.0" r="2.5"/>
<circle cx="125.2" cy="417.6" r="2.5"/>
<circle cx="127.8" cy="426.9" r="2.5"/>
<circle cx="118.6" cy="403.3" r="2.5"/>
<circle cx="120.6" cy="409.0" r="2.5"/>
<circle cx="161.7" cy="464.8" r="2.5"/>
<circle cx="118.6" cy="403.7" r="2.5"/>
<circle cx="143.3" cy="455.0" r="2.5"/>
<circle cx="117.8" cy="400.9" r="2.5"/>
<circle cx="124.7" cy="415.4" r="2.5"/>
<circle cx="126.0" cy="421.0" r="2.5"/>
<circle cx="146.8" cy="453.6" r="2.5"/>
<circle cx="124.6" cy="415.6" r="2.5"/>
<circle cx="123.0" cy="414.8" r="2.5"/>
<circle cx="129.9" cy="428.3" r="2.5"/>
<circle cx="165.2" cy="467.9" r="2.5"/>
<circle cx="126.7" cy="423.6" r="2.5"/>
<circle cx="175.7" cy="467.1" r="2.5"/>
<circle cx="140.6" cy="452.0" r="2.5"/>
<circle cx="139.6" cy="444.0" r="2.5"/>
<circle cx="117.4" cy="402.7" r="2.5"/>
<circle cx="163.9" cy="466.8" r="2.5"/>
<circle cx="141.0" cy="448.9" r="2.5"/>
<circle cx="127.0" cy="425.2" r="2.5"/>
<circle cx="151.1" cy="458.4" r="2.5"/>
<circle cx="116.3" cy="398.6" r="2.5"/>
<circle cx="131.8" cy="434.6" r="2.5"/>
<circle cx="154.8" cy="463.5" r="2.5"/>
<circle cx="123.5" cy="412.7" r="2.5"/>
<circle cx="131.2" cy="428.9" r="2.5"/>
<circle cx="170.9" cy="468.1" r="2.5"/>
<circle cx="146.6" cy="459.7" r="2.5"/>
<circle cx="127.8" cy="423.8" r="2.5"/>
<circle cx="122.0" cy="412.6" r="2.5"/>
<circle cx="115.6" cy="397.8" r="2.5"/>
<circle cx="168.3" cy="469.7" r="2.5"/>
<circle cx="119.7" cy="405.6" r="2.5"/>
<circle cx="156.7" cy="461.6" r="2.5"/>
<circle cx="138.5" cy="444.4" r="2.5"/>
<circle cx="180.2" cy="467.9" r="2.5"/>
<circle cx="169.6" cy="467.0" r="2.5"/>
<circle cx="162.6" cy="466.5" r="2.5"/>
<circle cx="175.8" cy="465.8" r="2.5"/>
<circle cx="166.2" cy="466.5" r="2.5"/>
<circle cx="142.0" cy="450.3" r="2.5"/>
<circle cx="122.2" cy="413.4" r="2.5"/>
<circle cx="130.6" cy="427.9" r="2.5"/>
<circle cx="119.4" cy="404.9" r="2.5"/>
<circle cx="136.8" cy="443.7" r="2.5"/>
<circle cx="131.6" cy="433.2" r="2.5"/>
<circle cx="120.6" cy="407.9" r="2.5"/>
<circle cx="135.6" cy="443.8" r="2.5"/>
<circle cx="166.6" cy="468.8" r="2.5"/>
<circle cx="116.5" cy="398.7" r="2.5"/>
<circle cx="155.7" cy="461.8" r="2.5"/>
<circle cx="143.7" cy="451.8" r="2.5"/>
<circle cx="115.8" cy="398.8" r="2.5"/>
<circle cx="164.0" cy="465.9" r="2.5"/>
<circle cx="148.0" cy="455.6" r="2.5"/>
<circle cx="132.8" cy="434.6" r="2.5"/>
<circle cx="129.9" cy="426.7" r="2.5"/>
<circle cx="133.1" cy="436.4" r="2.5"/>
<circle cx="128.2" cy="422.4" r="2.5"/>
<circle cx="157.2" cy="463.6" r="2.5"/>
<circle cx="179.1" cy="467.9" r="2.5"/>
<circle cx="156.6" cy="463.1" r="2.5"/>
<circle cx="166.3" cy="465.9" r="2.5"/>
<circle cx="122.8" cy="411.1" r="2.5"/>
<circle cx="151.4" cy="461.6" r="2.5"/>
<circle cx="124.1" cy="415.2" r="2.5"/>
<circle cx="167.3" cy="468.5" r="2.5"/>
<circle cx="120.1" cy="406.3" r="2.5"/>
<circle cx="123.6" cy="412.7" r="2.5"/>
<circle cx="135.9" cy="436.9" r="2.5"/>
<circle cx="176.4" cy="467.5" r="2.5"/>
<circle cx="139.6" cy="447.7" r="2.5"/>
<circle cx="159.5" cy="467.4" r="2.5"/>
<circle cx="134.0" cy="435.3" r="2.5"/>
<circle cx="136.3" cy="437.3" r="2.5"/>
<circle cx="133.4" cy="437.3" r="2.5"/>
<circle cx="183.2" cy="468.7" r="2.5"/>
<circle cx="150.2" cy="460.1" r="2.5"/>
<circle cx="116.8" cy="399.3" r="2.5"/>
<circle cx="130.9" cy="431.4" r="2.5"/>
<circle cx="120.7" cy="408.0" r="2.5"/>
<circle cx="138.9" cy="447.8" r="2.5"/>
<circle cx="166.1" cy="468.6" r="2.5"/>
<circle cx="122.4" cy="413.4" r="2.5"/>
<circle cx="174.5" cy="468.3" r="2.5"/>
<circle cx="131.9" cy="432.2" r="2.5"/>
<circle cx="121.7" cy="411.7" r="2.5"/>
<circle cx="183.6" cy="467.2" r="2.5"/>
<circle cx="154.3" cy="464.6" r="2.5"/>
<circle cx="123.7" cy="417.4" r="2.5"/>
<circle cx="149.1" cy="456.2" r="2.5"/>
<circle cx="119.8" cy="405.6" r="2.5"/>
<circle cx="143.6" cy="453.6" r="2.5"/>
<circle cx="129.5" cy="430.5" r="2.5"/>
<circle cx="132.4" cy="433.0" r="2.5"/>
<circle cx="120.5" cy="410.2" r="2.5"/>
<circle cx="121.1" cy="411.3" r="2.5"/>
<circle cx="141.9" cy="450.4" r="2.5"/>
<circle cx="144.2" cy="450.9" r="2.5"/>
<circle cx="175.5" cy="470.5" r="2.5"/>
<circle cx="165.2" cy="468.5" r="2.5"/>
<circle cx="120.7" cy="409.9" r="2.5"/>
<circle cx="127.9" cy="426.5" r="2.5"/>
<circle cx="126.6" cy="421.3" r="2.5"/>
<circle cx="166.7" cy="466.4" r="2.5"/>
<circle cx="144.0" cy="449.2" r="2.5"/>
<circle cx="117.5" cy="400.5" r="2.5"/>
<circle cx="183.8" cy="469.4" r="2.5"/>
<circle cx="151.0" cy="458.7" r="2.5"/>
<circle cx="150.7" cy="461.3" r="2.5"/>
<circle cx="132.9" cy="435.2" r="2.5"/>
<circle cx="164.9" cy="465.2" r="2.5"/>
<circle cx="124.9" cy="417.2" r="2.5"/>
<circle cx="122.4" cy="411.6" r="2.5"/>
<circle cx="145.2" cy="451.3" r="2.5"/>
<circle cx="141.6" cy="447.5" r="2.5"/>
<circle cx="144.5" cy="451.7" r="2.5"/>
<circle cx="150.8" cy="456.9" r="2.5"/>
<circle cx="152.6" cy="458.9" r="2.5"/>
<circle cx="180.7" cy="468.0" r="2.5"/>
<circle cx="138.1" cy="443.3" r="2.5"/>
<circle cx="146.9" cy="457.5" r="2.5"/>
<circle cx="158.8" cy="466.7" r="2.5"/>
<circle cx="136.8" cy="446.1" r="2.5"/>
<circle cx="167.5" cy="469.8" r="2.5"/>
<circle cx="134.7" cy="437.7" r="2.5"/>
<circle cx="142.1" cy="453.4" r="2.5"/>
<circle cx="140.9" cy="448.7" r="2.5"/>
<circle cx="134.2" cy="440.9" r="2.5"/>
<circle cx="131.8" cy="428.5" r="2.5"/>
<circle cx="154.9" cy="465.6" r="2.5"/>
<circle cx="156.4" cy="464.7" r="2.5"/>
<circle cx="159.1" cy="464.3" r="2.5"/>
<circle cx="147.3" cy="452.9" r="2.5"/>
<circle cx="121.4" cy="409.8" r="2.5"/>
<circle cx="140.1" cy="446.3" r="2.5"/>
<circle cx="117.8" cy="402.8" r="2.5"/>
<circle cx="142.1" cy="448.0" r="2.5"/>
<circle cx="130.1" cy="427.5" r="2.5"/>
<circle cx="127.6" cy="420.3" r="2.5"/>
<circle cx="175.7" cy="470.4" r="2.5"/>
<circle cx="149.8" cy="461.5" r="2.5"/>
<circle cx="134.0" cy="439.7" r="2.5"/>
<circle cx="125.3" cy="419.7" r="2.5"/>
<circle cx="142.2" cy="453.5" r="2.5"/>
<circle cx="119.7" cy="407.5" r="2.5"/>
<circle cx="121.2" cy="409.8" r="2.5"/>
<circle cx="179.4" cy="464.9" r="2.5"/>
<circle cx="127.4" cy="421.3" r="2.5"/>
<circle cx="131.9" cy="428.9" r="2.5"/>
<circle cx="173.7" cy="469.6" r="2.5"/>
<circle cx="134.4" cy="436.4" r="2.5"/>
<circle cx="146.8" cy="452.2" r="2.5"/>
<circle cx="116.7" cy="400.8" r="2.5"/>
<circle cx="129.8" cy="427.8" r="2.5"/>
<circle cx="178.1" cy="470.2" r="2.5"/>
<circle cx="139.0" cy="443.1" r="2.5"/>
<circle cx="128.1" cy="427.1" r="2.5"/>
<circle cx="173.8" cy="466.4" r="2.5"/>
<circle cx="167.5" cy="467.2" r="2.5"/>
<circle cx="139.2" cy="443.0" r="2.5"/>
<circle cx="172.0" cy="470.6" r="2.5"/>
<circle cx="124.6" cy="417.6" r="2.5"/>
<circle cx="123.6" cy="416.8" r="2.5"/>
<circle cx="118.5" cy="402.3" r="2.5"/>
<circle cx="156.8" cy="463.1" r="2.5"/>
<circle cx="174.2" cy="469.9" r="2.5"/>
<circle cx="156.2" cy="461.6" r="2.5"/>
<circle cx="152.2" cy="463.8" r="2.5"/>
<circle cx="137.9" cy="440.3" r="2.5"/>
<circle cx="126.4" cy="419.3" r="2.5"/>
<circle cx="155.8" cy="461.6" r="2.5"/>
<circle cx="124.5" cy="415.1" r="2.5"/>
<circle cx="150.0" cy="461.1" r="2.5"/>
<circle cx="132.2" cy="434.5" r="2.5"/>
<circle cx="172.5" cy="468.5" r="2.5"/>
<circle cx="126.7" cy="419.9" r="2.5"/>
<circle cx="177.2" cy="468.7" r="2.5"/>
<circle cx="128.0" cy="425.0" r="2.5"/>
<circle cx="119.0" cy="406.8" r="2.5"/>
<circle cx="136.0" cy="440.8" r="2.5"/>
<circle cx="143.1" cy="448.0" r="2.5"/>
<circle cx="146.9" cy="454.2" r="2.5"/>
<circle cx="126.4" cy="422.6" r="2.5"/>
<circle cx="119.9" cy="406.0" r="2.5"/>
<circle cx="159.6" cy="464.2" r="2.5"/>
<circle cx="128.4" cy="425.1" r="2.5"/>
<circle cx="123.4" cy="416.3" r="2.5"/>
<circle cx="183.4" cy="464.7" r="2.5"/>
<circle cx="136.4" cy="443.3" r="2.5"/>
<circle cx="131.9" cy="436.1" r="2.5"/>
<circle cx="140.7" cy="445.5" r="2.5"/>
<circle cx="142.4" cy="451.7" r="2.5"/>
<circle cx="131.7" cy="433.2" r="2.5"/>
<circle cx="161.7" cy="466.7" r="2.5"/>
<circle cx="138.5" cy="447.6" r="2.5"/>
<circle cx="152.5" cy="461.3" r="2.5"/>
<circle cx="179.6" cy="465.8" r="2.5"/>
<circle cx="162.1" cy="464.9" r="2.5"/>
<circle cx="147.6" cy="454.7" r="2.5"/>
<circle cx="135.1" cy="441.4" r="2.5"/>
<circle cx="161.5" cy="468.1" r="2.5"/>
<circle cx="126.5" cy="420.8" r="2.5"/>
<circle cx="125.6" cy="419.4" r="2.5"/>
<circle cx="141.2" cy="445.1" r="2.5"/>
<circle cx="144.9" cy="455.4" r="2.5"/>
<circle cx="142.7" cy="453.9" r="2.5"/>
<circle cx="124.6" cy="414.9" r="2.5"/>
<circle cx="116.6" cy="399.3" r="2.5"/>
<circle cx="136.0" cy="440.1" r="2.5"/>
<circle cx="127.0" cy="423.8" r="2.5"/>
<circle cx="118.4" cy="405.0" r="2.5"/>
<circle cx="143.7" cy="452.5" r="2.5"/>
<circle cx="163.2" cy="465.7" r="2.5"/>
<circle cx="122.7" cy="411.8" r="2.5"/>
<circle cx="117.9" cy="401.6" r="2.5"/>
<circle cx="147.4" cy="456.8" r="2.5"/>
<circle cx="127.6" cy="423.7" r="2.5"/>
<circle cx="119.2" cy="406.5" r="2.5"/>
<circle cx="124.0" cy="414.2" r="2.5"/>
<circle cx="122.6" cy="413.5" r="2.5"/>
<circle cx="166.7" cy="469.5" r="2.5"/>
<circle cx="118.6" cy="403.5" r="2.5"/>
<circle cx="133.3" cy="433.0" r="2.5"/>
<circle cx="181.6" cy="464.9" r="2.5"/>
<circle cx="137.9" cy="445.9" r="2.5"/>
<circle cx="183.3" cy="465.3" r="2.5"/>
<circle cx="136.1" cy="442.7" r="2.5"/>
<circle cx="117.8" cy="401.3" r="2.5"/>
<circle cx="173.1" cy="466.1" r="2.5"/>
<circle cx="134.4" cy="435.9" r="2.5"/>
<circle cx="136.6" cy="438.4" r="2.5"/>
<circle cx="116.7" cy="401.2" r="2.5"/>
<circle cx="159.3" cy="466.8" r="2.5"/>
<circle cx="126.8" cy="419.9" r="2.5"/>
<circle cx="143.7" cy="450.1" r="2.5"/>
<circle cx="135.7" cy="443.7" r="2.5"/>
<circle cx="132.9" cy="433.1" r="2.5"/>
<circle cx="183.0" cy="467.8" r="2.5"/>
<circle cx="117.6" cy="401.4" r="2.5"/>
<circle cx="151.0" cy="457.1" r="2.5"/>
<circle cx="130.8" cy="431.6" r="2.5"/>
<circle cx="170.3" cy="468.5" r="2.5"/>
<circle cx="172.7" cy="467.8" r="2.5"/>
<circle cx="132.5" cy="436.8" r="2.5"/>
<circle cx="132.2" cy="435.5" r="2.5"/>
<circle cx="125.9" cy="418.6" r="2.5"/>
<circle cx="124.0" cy="415.7" r="2.5"/>
<circle cx="123.7" cy="413.4" r="2.5"/>
<circle cx="125.6" cy="418.6" r="2.5"/>
<circle cx="130.0" cy="427.8" r="2.5"/>
<circle cx="184.4" cy="468.0" r="2.5"/>
<circle cx="170.1" cy="466.5" r="2.5"/>
<circle cx="134.7" cy="434.6" r="2.5"/>
<circle cx="153.6" cy="461.1" r="2.5"/>
<circle cx="129.6" cy="423.9" r="2.5"/>
<circle cx="124.5" cy="415.3" r="2.5"/>
<circle cx="132.3" cy="436.9" r="2.5"/>
<circle cx="156.0" cy="462.3" r="2.5"/>
<circle cx="133.4" cy="432.6" r="2.5"/>
<circle cx="178.1" cy="467.0" r="2.5"/>
<circle cx="159.6" cy="466.9" r="2.5"/>
<circle cx="175.0" cy="465.5" r="2.5"/>
<circle cx="130.8" cy="429.1" r="2.5"/>
<circle cx="118.8" cy="406.0" r="2.5"/>
<circle cx="129.8" cy="429.9" r="2.5"/>
<circle cx="142.4" cy="447.0" r="2.5"/>
<circle cx="134.7" cy="435.9" r="2.5"/>
<circle cx="118.0" cy="401.4" r="2.5"/>
<circle cx="147.6" cy="453.0" r="2.5"/>
<circle cx="130.3" cy="428.2" r="2.5"/>
<circle cx="143.5" cy="449.1" r="2.5"/>
<circle cx="199.0" cy="464.6" r="2.5"/>
<circle cx="200.0" cy="465.8" r="2.5"/>
<circle cx="170.5" cy="465.4" r="2.5"/>
<circle cx="177.3" cy="466.9" r="2.5"/>
<circle cx="183.7" cy="465.6" r="2.5"/>
<circle cx="207.1" cy="464.1" r="2.5"/>
<circle cx="177.9" cy="465.7" r="2.5"/>
<circle cx="174.0" cy="464.8" r="2.5"/>
<circle cx="164.3" cy="467.0" r="2.5"/>
<circle cx="191.9" cy="466.7" r="2.5"/>
<circle cx="212.7" cy="464.0" r="2.5"/>
<circle cx="197.3" cy="466.8" r="2.5"/>
<circle cx="174.0" cy="466.9" r="2.5"/>
<circle cx="197.1" cy="466.9" r="2.5"/>
<circle cx="207.2" cy="464.1" r="2.5"/>
<circle cx="195.2" cy="464.2" r="2.5"/>
<circle cx="184.8" cy="465.6" r="2.5"/>
<circle cx="166.1" cy="466.1" r="2.5"/>
<circle cx="179.7" cy="466.1" r="2.5"/>
<circle cx="177.2" cy="465.1" r="2.5"/>
<circle cx="183.5" cy="465.9" r="2.5"/>
<circle cx="171.5" cy="466.9" r="2.5"/>
<circle cx="175.2" cy="464.9" r="2.5"/>
<circle cx="180.4" cy="465.8" r="2.5"/>
<circle cx="170.7" cy="466.6" r="2.5"/>
<circle cx="198.8" cy="465.5" r="2.5"/>
<circle cx="198.6" cy="463.8" r="2.5"/>
<circle cx="183.0" cy="465.6" r="2.5"/>
<circle cx="166.2" cy="466.2" r="2.5"/>
<circle cx="165.8" cy="466.5" r="2.5"/>
<circle cx="192.9" cy="465.6" r="2.5"/>
<circle cx="179.6" cy="465.3" r="2.5"/>
<circle cx="164.2" cy="466.1" r="2.5"/>
<circle cx="208.5" cy="465.1" r="2.5"/>
<circle cx="176.4" cy="466.7" r="2.5"/>
<circle cx="172.5" cy="466.2" r="2.5"/>
<circle cx="194.5" cy="467.0" r="2.5"/>
<circle cx="181.5" cy="466.3" r="2.5"/>
<circle cx="211.1" cy="465.6" r="2.5"/>
<circle cx="195.0" cy="465.9" r="2.5"/>
<circle cx="184.0" cy="465.7" r="2.5"/>
<circle cx="177.1" cy="467.2" r="2.5"/>
<circle cx="207.8" cy="464.5" r="2.5"/>
<circle cx="209.3" cy="463.4" r="2.5"/>
<circle cx="169.9" cy="466.4" r="2.5"/>
<circle cx="178.7" cy="465.7" r="2.5"/>
<circle cx="212.8" cy="463.5" r="2.5"/>
<circle cx="172.8" cy="465.4" r="2.5"/>
<circle cx="197.7" cy="464.6" r="2.5"/>
<circle cx="163.1" cy="466.7" r="2.5"/>
<circle cx="183.1" cy="465.2" r="2.5"/>
<circle cx="188.2" cy="466.3" r="2.5"/>
<circle cx="191.0" cy="466.1" r="2.5"/>
<circle cx="191.7" cy="466.8" r="2.5"/>
<circle cx="212.4" cy="464.1" r="2.5"/>
<circle cx="180.7" cy="467.3" r="2.5"/>
<circle cx="179.0" cy="466.8" r="2.5"/>
<circle cx="198.5" cy="466.0" r="2.5"/>
<circle cx="212.2" cy="465.7" r="2.5"/>
<circle cx="171.1" cy="466.7" r="2.5"/>
<circle cx="188.0" cy="466.1" r="2.5"/>
<circle cx="181.8" cy="465.4" r="2.5"/>
<circle cx="201.2" cy="465.3" r="2.5"/>
<circle cx="175.1" cy="465.4" r="2.5"/>
<circle cx="179.6" cy="465.1" r="2.5"/>
<circle cx="189.2" cy="464.6" r="2.5"/>
<circle cx="166.2" cy="465.1" r="2.5"/>
<circle cx="168.2" cy="467.1" r="2.5"/>
<circle cx="168.7" cy="466.3" r="2.5"/>
<circle cx="202.4" cy="465.1" r="2.5"/>
<circle cx="171.3" cy="467.5" r="2.5"/>
<circle cx="207.3" cy="463.5" r="2.5"/>
<circle cx="176.0" cy="466.2" r="2.5"/>
<circle cx="203.6" cy="464.8" r="2.5"/>
<circle cx="199.5" cy="464.5" r="2.5"/>
<circle cx="199.5" cy="464.8" r="2.5"/>
<circle cx="180.1" cy="466.9" r="2.5"/>
<circle cx="206.0" cy="466.1" r="2.5"/>
<circle cx="191.9" cy="465.4" r="2.5"/>
<circle cx="199.1" cy="465.7" r="2.5"/>
<circle cx="205.4" cy="466.0" r="2.5"/>
<circle cx="169.4" cy="466.0" r="2.5"/>
<circle cx="197.1" cy="464.6" r="2.5"/>
<circle cx="172.4" cy="464.8" r="2.5"/>
<circle cx="192.9" cy="467.1" r="2.5"/>
<circle cx="212.4" cy="463.5" r="2.5"/>
<circle cx="198.1" cy="465.1" r="2.5"/>
<circle cx="195.2" cy="465.2" r="2.5"/>
<circle cx="210.7" cy="466.3" r="2.5"/>
<circle cx="165.5" cy="467.2" r="2.5"/>
<circle cx="169.0" cy="465.0" r="2.5"/>
<circle cx="177.6" cy="466.9" r="2.5"/>
<circle cx="213.6" cy="463.4" r="2.5"/>
<circle cx="179.8" cy="464.6" r="2.5"/>
<circle cx="190.7" cy="465.7" r="2.5"/>
<circle cx="182.0" cy="465.4" r="2.5"/>
<circle cx="203.9" cy="466.2" r="2.5"/>
<circle cx="177.5" cy="465.8" r="2.5"/>
<circle cx="194.6" cy="466.4" r="2.5"/>
<circle cx="213.0" cy="464.3" r="2.5"/>
<circle cx="198.4" cy="465.5" r="2.5"/>
<circle cx="203.8" cy="464.0" r="2.5"/>
<circle cx="171.9" cy="465.1" r="2.5"/>
<circle cx="210.6" cy="464.0" r="2.5"/>
<circle cx="187.9" cy="464.6" r="2.5"/>
<circle cx="179.5" cy="464.6" r="2.5"/>
<circle cx="191.8" cy="464.6" r="2.5"/>
<circle cx="194.9" cy="464.8" r="2.5"/>
<circle cx="174.6" cy="466.2" r="2.5"/>
<circle cx="181.6" cy="465.3" r="2.5"/>
<circle cx="165.6" cy="465.1" r="2.5"/>
<circle cx="208.5" cy="464.3" r="2.5"/>
<circle cx="167.0" cy="465.5" r="2.5"/>
<circle cx="187.7" cy="467.5" r="2.5"/>
<circle cx="173.4" cy="467.5" r="2.5"/>
<circle cx="187.7" cy="465.6" r="2.5"/>
<circle cx="204.1" cy="464.8" r="2.5"/>
<circle cx="165.9" cy="466.7" r="2.5"/>
<circle cx="196.5" cy="465.9" r="2.5"/>
<circle cx="177.2" cy="467.6" r="2.5"/>
<circle cx="207.2" cy="466.5" r="2.5"/>
<circle cx="185.6" cy="467.0" r="2.5"/>
<circle cx="199.9" cy="464.3" r="2.5"/>
<circle cx="164.3" cy="465.5" r="2.5"/>
<circle cx="169.0" cy="465.1" r="2.5"/>
<circle cx="181.3" cy="466.9" r="2.5"/>
<circle cx="178.8" cy="466.2" r="2.5"/>
<circle cx="163.5" cy="465.7" r="2.5"/>
<circle cx="211.8" cy="463.1" r="2.5"/>
<circle cx="189.9" cy="466.8" r="2.5"/>
<circle cx="203.4" cy="465.9" r="2.5"/>
<circle cx="183.4" cy="467.0" r="2.5"/>
<circle cx="205.3" cy="465.9" r="2.5"/>
<circle cx="213.2" cy="463.4" r="2.5"/>
<circle cx="211.5" cy="464.4" r="2.5"/>
<circle cx="198.9" cy="464.6" r="2.5"/>
<circle cx="209.3" cy="463.3" r="2.5"/>
<circle cx="192.4" cy="464.8" r="2.5"/>
<circle cx="182.8" cy="465.6" r="2.5"/>
<circle cx="196.6" cy="466.5" r="2.5"/>
<circle cx="181.6" cy="466.5" r="2.5"/>
<circle cx="181.0" cy="465.4" r="2.5"/>
<circle cx="209.1" cy="464.3" r="2.5"/>
<circle cx="167.8" cy="465.9" r="2.5"/>
<circle cx="200.8" cy="464.3" r="2.5"/>
<circle cx="200.9" cy="465.4" r="2.5"/>
<circle cx="197.6" cy="464.4" r="2.5"/>
<circle cx="168.4" cy="465.3" r="2.5"/>
<circle cx="180.9" cy="465.8" r="2.5"/>
<circle cx="163.5" cy="466.6" r="2.5"/>
<circle cx="183.6" cy="465.4" r="2.5"/>
<circle cx="190.5" cy="467.2" r="2.5"/>
<circle cx="173.5" cy="467.5" r="2.5"/>
<circle cx="179.4" cy="466.9" r="2.5"/>
<circle cx="168.6" cy="468.0" r="2.5"/>
<circle cx="185.0" cy="467.4" r="2.5"/>
<circle cx="174.2" cy="466.0" r="2.5"/>
<circle cx="199.0" cy="464.3" r="2.5"/>
<circle cx="177.0" cy="466.8" r="2.5"/>
<circle cx="211.3" cy="464.2" r="2.5"/>
<circle cx="172.3" cy="465.9" r="2.5"/>
<circle cx="213.4" cy="463.5" r="2.5"/>
<circle cx="195.4" cy="465.1" r="2.5"/>
<circle cx="195.8" cy="464.6" r="2.5"/>
<circle cx="194.5" cy="466.8" r="2.5"/>
<circle cx="206.7" cy="465.4" r="2.5"/>
<circle cx="188.8" cy="466.1" r="2.5"/>
<circle cx="168.9" cy="467.5" r="2.5"/>
<circle cx="198.2" cy="465.2" r="2.5"/>
<circle cx="196.9" cy="465.2" r="2.5"/>
<circle cx="182.6" cy="465.2" r="2.5"/>
<circle cx="193.7" cy="465.9" r="2.5"/>
<circle cx="189.2" cy="464.3" r="2.5"/>
<circle cx="195.0" cy="465.4" r="2.5"/>
<circle cx="193.3" cy="465.9" r="2.5"/>
<circle cx="210.5" cy="463.7" r="2.5"/>
<circle cx="187.0" cy="467.5" r="2.5"/>
<circle cx="200.6" cy="464.7" r="2.5"/>
<circle cx="200.7" cy="466.8" r="2.5"/>
<circle cx="183.5" cy="467.2" r="2.5"/>
<circle cx="169.5" cy="468.0" r="2.5"/>
<circle cx="188.0" cy="465.0" r="2.5"/>
<circle cx="205.9" cy="465.5" r="2.5"/>
<circle cx="210.9" cy="465.8" r="2.5"/>
<circle cx="203.7" cy="465.2" r="2.5"/>
<circle cx="213.6" cy="463.2" r="2.5"/>
<circle cx="207.4" cy="465.6" r="2.5"/>
<circle cx="175.8" cy="467.2" r="2.5"/>
<circle cx="186.2" cy="466.0" r="2.5"/>
<circle cx="207.1" cy="464.0" r="2.5"/>
<circle cx="177.3" cy="466.6" r="2.5"/>
<circle cx="166.8" cy="466.7" r="2.5"/>
<circle cx="203.1" cy="465.1" r="2.5"/>
<circle cx="175.4" cy="467.2" r="2.5"/>
<circle cx="206.7" cy="465.8" r="2.5"/>
<circle cx="191.1" cy="467.0" r="2.5"/>
<circle cx="203.6" cy="464.0" r="2.5"/>
<circle cx="181.6" cy="464.8" r="2.5"/>
<circle cx="164.9" cy="466.1" r="2.5"/>
<circle cx="207.2" cy="466.0" r="2.5"/>
<circle cx="169.0" cy="465.4" r="2.5"/>
<circle cx="182.9" cy="467.1" r="2.5"/>
<circle cx="194.5" cy="466.9" r="2.5"/>
<circle cx="166.7" cy="468.1" r="2.5"/>
<circle cx="173.6" cy="466.7" r="2.5"/>
<circle cx="207.7" cy="465.6" r="2.5"/>
<circle cx="173.1" cy="466.8" r="2.5"/>
<circle cx="184.9" cy="464.4" r="2.5"/>
<circle cx="180.3" cy="465.5" r="2.5"/>
<circle cx="195.1" cy="464.8" r="2.5"/>
<circle cx="193.8" cy="466.2" r="2.5"/>
<circle cx="172.2" cy="465.1" r="2.5"/>
<circle cx="198.4" cy="465.3" r="2.5"/>
<circle cx="169.6" cy="465.2" r="2.5"/>
<circle cx="211.0" cy="465.1" r="2.5"/>
<circle cx="181.2" cy="465.1" r="2.5"/>
<circle cx="213.8" cy="465.2" r="2.5"/>
<circle cx="200.5" cy="464.8" r="2.5"/>
<circle cx="178.8" cy="465.8" r="2.5"/>
<circle cx="170.5" cy="466.8" r="2.5"/>
<circle cx="184.7" cy="467.0" r="2.5"/>
<circle cx="183.9" cy="465.8" r="2.5"/>
<circle cx="188.9" cy="467.2" r="2.5"/>
<circle cx="180.7" cy="466.7" r="2.5"/>
<circle cx="175.0" cy="466.5" r="2.5"/>
<circle cx="177.6" cy="467.4" r="2.5"/>
<circle cx="177.7" cy="467.3" r="2.5"/>
<circle cx="197.5" cy="465.3" r="2.5"/>
<circle cx="210.6" cy="464.4" r="2.5"/>
<circle cx="200.9" cy="465.6" r="2.5"/>
<circle cx="185.8" cy="464.5" r="2.5"/>
<circle cx="184.4" cy="465.3" r="2.5"/>
<circle cx="185.5" cy="467.4" r="2.5"/>
<circle cx="178.0" cy="466.8" r="2.5"/>
<circle cx="197.2" cy="464.6" r="2.5"/>
<circle cx="184.0" cy="464.8" r="2.5"/>
<circle cx="208.6" cy="464.1" r="2.5"/>
<circle cx="184.4" cy="465.5" r="2.5"/>
<circle cx="204.9" cy="466.2" r="2.5"/>
<circle cx="193.1" cy="465.8" r="2.5"/>
<circle cx="168.1" cy="467.7" r="2.5"/>
<circle cx="167.5" cy="466.0" r="2.5"/>
<circle cx="182.1" cy="466.7" r="2.5"/>
<circle cx="197.1" cy="464.9" r="2.5"/>
<circle cx="208.9" cy="466.3" r="2.5"/>
<circle cx="164.2" cy="467.0" r="2.5"/>
<circle cx="186.9" cy="465.4" r="2.5"/>
<circle cx="186.7" cy="465.3" r="2.5"/>
<circle cx="197.2" cy="465.8" r="2.5"/>
<circle cx="212.6" cy="466.2" r="2.5"/>
<circle cx="213.6" cy="464.3" r="2.5"/>
<circle cx="205.3" cy="465.5" r="2.5"/>
<circle cx="198.8" cy="467.0" r="2.5"/>
<circle cx="166.4" cy="466.4" r="2.5"/>
<circle cx="183.5" cy="466.5" r="2.5"/>
<circle cx="174.2" cy="467.8" r="2.5"/>
<circle cx="173.7" cy="465.9" r="2.5"/>
<circle cx="170.3" cy="466.0" r="2.5"/>
<circle cx="200.8" cy="463.9" r="2.5"/>
<circle cx="171.5" cy="466.8" r="2.5"/>
<circle cx="233.1" cy="431.7" r="2.5"/>
<circle cx="222.4" cy="452.9" r="2.5"/>
<circle cx="236.5" cy="425.7" r="2.5"/>
<circle cx="216.4" cy="459.2" r="2.5"/>
<circle cx="213.5" cy="465.3" r="2.5"/>
<circle cx="242.8" cy="413.6" r="2.5"/>
<circle cx="212.5" cy="464.0" r="2.5"/>
<circle cx="230.3" cy="436.6" r="2.5"/>
<circle cx="216.8" cy="460.2" r="2.5"/>
<circle cx="223.1" cy="449.7" r="2.5"/>
<circle cx="216.8" cy="459.2" r="2.5"/>
<circle cx="215.9" cy="458.0" r="2.5"/>
<circle cx="228.8" cy="437.5" r="2.5"/>
<circle cx="237.3" cy="422.8" r="2.5"/>
<circle cx="225.1" cy="442.6" r="2.5"/>
<circle cx="220.0" cy="454.1" r="2.5"/>
<circle cx="230.8" cy="435.2" r="2.5"/>
<circle cx="238.9" cy="418.4" r="2.5"/>
<circle cx="239.0" cy="418.4" r="2.5"/>
<circle cx="242.9" cy="411.8" r="2.5"/>
<circle cx="226.7" cy="444.0" r="2.5"/>
<circle cx="240.8" cy="418.3" r="2.5"/>
<circle cx="224.9" cy="442.5" r="2.5"/>
<circle cx="218.6" cy="458.1" r="2.5"/>
<circle cx="236.5" cy="425.5" r="2.5"/>
<circle cx="218.0" cy="457.5" r="2.5"/>
<circle cx="212.0" cy="463.3" r="2.5"/>
<circle cx="224.5" cy="450.7" r="2.5"/>
<circle cx="233.9" cy="430.7" r="2.5"/>
<circle cx="213.4" cy="462.9" r="2.5"/>
<circle cx="214.3" cy="460.9" r="2.5"/>
<circle cx="217.2" cy="460.5" r="2.5"/>
<circle cx="223.9" cy="448.2" r="2.5"/>
<circle cx="234.3" cy="430.1" r="2.5"/>
<circle cx="242.3" cy="413.2" r="2.5"/>
<circle cx="230.5" cy="439.2" r="2.5"/>
<circle cx="225.3" cy="444.1" r="2.5"/>
<circle cx="236.2" cy="425.0" r="2.5"/>
<circle cx="224.9" cy="445.9" r="2.5"/>
<circle cx="228.0" cy="439.6" r="2.5"/>
<circle cx="226.9" cy="442.4" r="2.5"/>
<circle cx="214.6" cy="463.4" r="2.5"/>
<circle cx="214.3" cy="462.3" r="2.5"/>
<circle cx="230.2" cy="435.7" r="2.5"/>
<circle cx="219.0" cy="453.1" r="2.5"/>
<circle cx="224.6" cy="445.4" r="2.5"/>
<circle cx="227.8" cy="439.0" r="2.5"/>
<circle cx="236.7" cy="424.5" r="2.5"/>
<circle cx="212.1" cy="464.9" r="2.5"/>
<circle cx="241.8" cy="411.6" r="2.5"/>
<circle cx="232.4" cy="433.5" r="2.5"/>
<circle cx="225.4" cy="446.3" r="2.5"/>
<circle cx="224.5" cy="445.6" r="2.5"/>
<circle cx="232.5" cy="432.4" r="2.5"/>
<circle cx="223.5" cy="449.0" r="2.5"/>
<circle cx="230.5" cy="438.1" r="2.5"/>
<circle cx="212.9" cy="462.0" r="2.5"/>
<circle cx="220.6" cy="451.9" r="2.5"/>
<circle cx="238.0" cy="421.8" r="2.5"/>
<circle cx="239.7" cy="418.1" r="2.5"/>
<circle cx="223.1" cy="450.9" r="2.5"/>
<circle cx="216.3" cy="461.9" r="2.5"/>
<circle cx="238.8" cy="419.6" r="2.5"/>
<circle cx="224.7" cy="449.4" r="2.5"/>
<circle cx="238.0" cy="422.4" r="2.5"/>
<circle cx="214.6" cy="463.0" r="2.5"/>
<circle cx="214.0" cy="463.2" r="2.5"/>
<circle cx="231.1" cy="435.8" r="2.5"/>
<circle cx="232.9" cy="430.4" r="2.5"/>
<circle cx="242.3" cy="414.0" r="2.5"/>
<circle cx="231.0" cy="433.7" r="2.5"/>
<circle cx="236.3" cy="425.2" r="2.5"/>
<circle cx="235.2" cy="428.8" r="2.5"/>
<circle cx="240.6" cy="414.5" r="2.5"/>
<circle cx="237.6" cy="422.6" r="2.5"/>
<circle cx="236.7" cy="424.3" r="2.5"/>
<circle cx="227.4" cy="441.4" r="2.5"/>
<circle cx="216.0" cy="459.0" r="2.5"/>
<circle cx="235.9" cy="425.1" r="2.5"/>
<circle cx="217.1" cy="460.1" r="2.5"/>
<circle cx="234.3" cy="429.2" r="2.5"/>
<circle cx="215.3" cy="458.9" r="2.5"/>
<circle cx="224.8" cy="450.2" r="2.5"/>
<circle cx="231.4" cy="435.3" r="2.5"/>
<circle cx="219.7" cy="454.4" r="2.5"/>
<circle cx="231.4" cy="437.1" r="2.5"/>
<circle cx="217.5" cy="459.8" r="2.5"/>
<circle cx="226.8" cy="439.3" r="2.5"/>
<circle cx="226.7" cy="442.2" r="2.5"/>
<circle cx="235.0" cy="429.0" r="2.5"/>
<circle cx="229.6" cy="439.2" r="2.5"/>
<circle cx="226.7" cy="445.4" r="2.5"/>
<circle cx="216.5" cy="460.5" r="2.5"/>
<circle cx="218.5" cy="457.1" r="2.5"/>
<circle cx="219.1" cy="454.7" r="2.5"/>
<circle cx="217.8" cy="456.8" r="2.5"/>
<circle cx="231.8" cy="433.3" r="2.5"/>
<circle cx="226.0" cy="445.0" r="2.5"/>
<circle cx="239.2" cy="419.1" r="2.5"/>
<circle cx="231.6" cy="433.8" r="2.5"/>
<circle cx="242.8" cy="411.0" r="2.5"/>
<circle cx="235.0" cy="427.3" r="2.5"/>
<circle cx="222.4" cy="452.3" r="2.5"/>
<circle cx="231.1" cy="434.1" r="2.5"/>
<circle cx="215.1" cy="462.7" r="2.5"/>
<circle cx="226.2" cy="445.8" r="2.5"/>
<circle cx="227.5" cy="442.6" r="2.5"/>
<circle cx="231.4" cy="435.4" r="2.5"/>
<circle cx="241.1" cy="415.2" r="2.5"/>
<circle cx="227.9" cy="438.8" r="2.5"/>
<circle cx="236.4" cy="424.1" r="2.5"/>
<circle cx="224.3" cy="450.1" r="2.5"/>
<circle cx="213.7" cy="464.0" r="2.5"/>
<circle cx="231.2" cy="434.7" r="2.5"/>
<circle cx="222.9" cy="447.3" r="2.5"/>
<circle cx="242.8" cy="413.1" r="2.5"/>
<circle cx="237.6" cy="420.9" r="2.5"/>
<circle cx="237.4" cy="422.4" r="2.5"/>
<circle cx="219.6" cy="455.3" r="2.5"/>
<circle cx="232.0" cy="432.1" r="2.5"/>
<circle cx="237.3" cy="423.7" r="2.5"/>
<circle cx="241.7" cy="416.2" r="2.5"/>
<circle cx="234.9" cy="427.9" r="2.5"/>
<circle cx="242.7" cy="413.0" r="2.5"/>
<circle cx="223.8" cy="451.0" r="2.5"/>
<circle cx="235.8" cy="425.7" r="2.5"/>
<circle cx="219.7" cy="451.5" r="2.5"/>
<circle cx="229.4" cy="436.0" r="2.5"/>
<circle cx="222.0" cy="449.6" r="2.5"/>
<circle cx="216.9" cy="458.7" r="2.5"/>
<circle cx="221.4" cy="450.8" r="2.5"/>
<circle cx="222.3" cy="451.0" r="2.5"/>
<circle cx="239.6" cy="417.1" r="2.5"/>
<circle cx="240.5" cy="418.5" r="2.5"/>
<circle cx="232.4" cy="432.4" r="2.5"/>
<circle cx="236.3" cy="425.4" r="2.5"/>
<circle cx="234.5" cy="429.8" r="2.5"/>
<circle cx="237.2" cy="422.9" r="2.5"/>
<circle cx="215.0" cy="463.3" r="2.5"/>
<circle cx="225.9" cy="446.8" r="2.5"/>
<circle cx="220.5" cy="453.3" r="2.5"/>
<circle cx="226.0" cy="446.3" r="2.5"/>
<circle cx="242.1" cy="413.3" r="2.5"/>
<circle cx="230.9" cy="434.7" r="2.5"/>
<circle cx="222.1" cy="454.3" r="2.5"/>
<circle cx="217.2" cy="460.6" r="2.5"/>
<circle cx="233.5" cy="429.5" r="2.5"/>
<circle cx="240.3" cy="415.4" r="2.5"/>
<circle cx="230.7" cy="434.6" r="2.5"/>
<circle cx="243.0" cy="410.5" r="2.5"/>
<circle cx="239.4" cy="417.1" r="2.5"/>
<circle cx="233.8" cy="428.9" r="2.5"/>
<circle cx="213.2" cy="464.0" r="2.5"/>
<circle cx="243.5" cy="411.2" r="2.5"/>
<circle cx="240.3" cy="418.7" r="2.5"/>
<circle cx="228.3" cy="436.6" r="2.5"/>
<circle cx="228.9" cy="436.5" r="2.5"/>
<circle cx="229.4" cy="436.8" r="2.5"/>
<circle cx="228.1" cy="438.1" r="2.5"/>
<circle cx="235.4" cy="427.0" r="2.5"/>
<circle cx="227.3" cy="438.6" r="2.5"/>
<circle cx="229.0" cy="439.4" r="2.5"/>
<circle cx="243.0" cy="411.7" r="2.5"/>
<circle cx="216.6" cy="458.1" r="2.5"/>
<circle cx="224.8" cy="448.2" r="2.5"/>
<circle cx="242.8" cy="414.0" r="2.5"/>
<circle cx="243.0" cy="413.3" r="2.5"/>
<circle cx="240.6" cy="418.6" r="2.5"/>
<circle cx="212.7" cy="464.4" r="2.5"/>
<circle cx="232.0" cy="433.5" r="2.5"/>
<circle cx="232.6" cy="432.2" r="2.5"/>
<circle cx="241.1" cy="413.5" r="2.5"/>
<circle cx="231.3" cy="438.2" r="2.5"/>
<circle cx="212.2" cy="463.2" r="2.5"/>
<circle cx="241.0" cy="418.0" r="2.5"/>
<circle cx="211.7" cy="463.4" r="2.5"/>
<circle cx="239.4" cy="420.1" r="2.5"/>
<circle cx="230.0" cy="437.6" r="2.5"/>
<circle cx="237.3" cy="424.2" r="2.5"/>
<circle cx="210.9" cy="464.7" r="2.5"/>
<circle cx="238.5" cy="422.2" r="2.5"/>
<circle cx="239.0" cy="419.6" r="2.5"/>
<circle cx="223.6" cy="447.5" r="2.5"/>
<circle cx="213.2" cy="465.2" r="2.5"/>
<circle cx="222.0" cy="452.0" r="2.5"/>
<circle cx="229.4" cy="436.8" r="2.5"/>
<circle cx="234.5" cy="428.7" r="2.5"/>
<circle cx="222.0" cy="454.1" r="2.5"/>
<circle cx="217.8" cy="455.8" r="2.5"/>
<circle cx="221.3" cy="452.2" r="2.5"/>
<circle cx="237.5" cy="422.5" r="2.5"/>
<circle cx="221.4" cy="453.4" r="2.5"/>
<circle cx="221.7" cy="452.0" r="2.5"/>
<circle cx="222.6" cy="453.0" r="2.5"/>
<circle cx="218.3" cy="455.6" r="2.5"/>
<circle cx="222.5" cy="449.3" r="2.5"/>
<circle cx="236.3" cy="425.9" r="2.5"/>
<circle cx="238.0" cy="422.2" r="2.5"/>
<circle cx="215.5" cy="461.9" r="2.5"/>
<circle cx="220.2" cy="452.2" r="2.5"/>
<circle cx="228.2" cy="444.3" r="2.5"/>
<circle cx="224.7" cy="445.6" r="2.5"/>
<circle cx="242.1" cy="415.6" r="2.5"/>
<circle cx="224.5" cy="444.2" r="2.5"/>
<circle cx="238.2" cy="422.4" r="2.5"/>
<circle cx="225.2" cy="448.2" r="2.5"/>
<circle cx="224.8" cy="445.0" r="2.5"/>
<circle cx="232.1" cy="433.4" r="2.5"/>
<circle cx="229.5" cy="440.5" r="2.5"/>
<circle cx="212.5" cy="464.8" r="2.5"/>
<circle cx="224.1" cy="444.5" r="2.5"/>
<circle cx="240.7" cy="414.7" r="2.5"/>
<circle cx="220.9" cy="455.6" r="2.5"/>
<circle cx="243.3" cy="412.7" r="2.5"/>
<circle cx="225.8" cy="448.2" r="2.5"/>
<circle cx="217.8" cy="458.6" r="2.5"/>
<circle cx="241.6" cy="412.9" r="2.5"/>
<circle cx="217.5" cy="458.8" r="2.5"/>
<circle cx="240.9" cy="417.0" r="2.5"/>
<circle cx="242.2" cy="412.9" r="2.5"/>
<circle cx="224.0" cy="445.1" r="2.5"/>
<circle cx="223.5" cy="452.1" r="2.5"/>
<circle cx="213.8" cy="461.1" r="2.5"/>
<circle cx="223.0" cy="446.3" r="2.5"/>
<circle cx="222.2" cy="448.7" r="2.5"/>
<circle cx="216.7" cy="459.2" r="2.5"/>
<circle cx="230.6" cy="436.4" r="2.5"/>
<circle cx="237.1" cy="423.8" r="2.5"/>
<circle cx="241.4" cy="412.7" r="2.5"/>
<circle cx="219.0" cy="453.1" r="2.5"/>
<circle cx="224.2" cy="449.8" r="2.5"/>
<circle cx="241.6" cy="414.4" r="2.5"/>
<circle cx="217.7" cy="456.9" r="2.5"/>
<circle cx="230.9" cy="434.5" r="2.5"/>
<circle cx="238.5" cy="422.3" r="2.5"/>
<circle cx="228.3" cy="441.0" r="2.5"/>
<circle cx="239.4" cy="418.9" r="2.5"/>
<circle cx="220.3" cy="456.4" r="2.5"/>
<circle cx="242.1" cy="410.9" r="2.5"/>
<circle cx="237.0" cy="423.7" r="2.5"/>
</g>
<g fill="#000" fill-opacity="0.40">
<circle cx="150.2" cy="453.8" r="2.5"/>
<circle cx="156.7" cy="459.9" r="2.5"/>
<circle cx="154.2" cy="458.0" r="2.5"/>
<circle cx="133.8" cy="425.6" r="2.5"/>
<circle cx="163.7" cy="462.9" r="2.5"/>
<circle cx="161.9" cy="461.0" r="2.5"/>
<circle cx="145.3" cy="446.5" r="2.5"/>
<circle cx="147.6" cy="450.2" r="2.5"/>
<circle cx="133.8" cy="424.6" r="2.5"/>
<circle cx="138.9" cy="438.5" r="2.5"/>
<circle cx="156.3" cy="457.6" r="2.5"/>
<circle cx="157.8" cy="458.7" r="2.5"/>
<circle cx="151.0" cy="452.8" r="2.5"/>
<circle cx="132.4" cy="424.6" r="2.5"/>
<circle cx="138.5" cy="434.8" r="2.5"/>
<circle cx="165.5" cy="464.2" r="2.5"/>
<circle cx="139.1" cy="439.0" r="2.5"/>
<circle cx="147.3" cy="450.1" r="2.5"/>
<circle cx="137.1" cy="435.1" r="2.5"/>
<circle cx="151.9" cy="456.4" r="2.5"/>
<circle cx="161.4" cy="461.2" r="2.5"/>
<circle cx="142.6" cy="441.7" r="2.5"/>
<circle cx="137.3" cy="431.3" r="2.5"/>
<circle cx="140.1" cy="439.3" r="2.5"/>
<circle cx="132.8" cy="424.5" r="2.5"/>
<circle cx="141.7" cy="440.7" r="2.5"/>
<circle cx="158.4" cy="460.0" r="2.5"/>
<circle cx="140.7" cy="439.8" r="2.5"/>
<circle cx="153.7" cy="455.4" r="2.5"/>
<circle cx="165.8" cy="462.5" r="2.5"/>
<circle cx="154.8" cy="458.2" r="2.5"/>
<circle cx="132.9" cy="425.3" r="2.5"/>
<circle cx="142.1" cy="442.4" r="2.5"/>
<circle cx="134.0" cy="424.2" r="2.5"/>
<circle cx="136.5" cy="433.9" r="2.5"/>
<circle cx="137.2" cy="434.6" r="2.5"/>
<circle cx="162.7" cy="463.2" r="2.5"/>
<circle cx="141.8" cy="441.1" r="2.5"/>
<circle cx="146.6" cy="449.6" r="2.5"/>
<circle cx="135.1" cy="430.0" r="2.5"/>
<circle cx="242.9" cy="423.3" r="2.5"/>
<circle cx="219.3" cy="463.8" r="2.5"/>
<circle cx="220.8" cy="460.8" r="2.5"/>
<circle cx="237.5" cy="433.6" r="2.5"/>
<circle cx="229.8" cy="447.9" r="2.5"/>
<circle cx="235.0" cy="436.5" r="2.5"/>
<circle cx="228.4" cy="448.7" r="2.5"/>
<circle cx="220.1" cy="461.2" r="2.5"/>
<circle cx="240.1" cy="429.2" r="2.5"/>
<circle cx="223.2" cy="456.8" r="2.5"/>
</g>
<g fill="#000" fill-opacity="0.45">
<circle cx="85.9" cy="292.2" r="2.7"/>
<circle cx="91.6" cy="321.1" r="2.7"/>
<circle cx="106.5" cy="372.2" r="2.7"/>
<circle cx="109.4" cy="375.9" r="2.7"/>
<circle cx="109.4" cy="375.9" r="2.7"/>
<circle cx="112.9" cy="388.6" r="2.7"/>
<circle cx="115.6" cy="392.5" r="2.7"/>
<circle cx="255.9" cy="379.3" r="2.7"/>
<circle cx="251.3" cy="393.0" r="2.7"/>
<circle cx="248.0" cy="400.3" r="2.7"/>
<circle cx="245.8" cy="407.3" r="2.7"/>
<circle cx="218.0" cy="446.6" r="2.7"/>
<circle cx="264.5" cy="351.9" r="2.7"/>
<circle cx="264.5" cy="351.9" r="2.7"/>
<circle cx="235.2" cy="432.3" r="2.7"/>
</g>
<path d="M162.8,467.4 L199,466.3 L214.9,464.2 Q212.5,467.8 206.5,471 Q202.5,473.3 197.5,473.3 H164.2 Q161.6,470.5 162.8,467.4 Z" fill="#66c2a5"/>
<line x1="191.0" y1="417.5" x2="191.0" y2="467" stroke="#66c2a5" stroke-width="1.2"/>
<text x="190.60" y="414.60" font-size="11.1" text-anchor="middle" fill="#6cbfa4">controls</text>
<g stroke="#6e6e6e" stroke-width="1.2">
<line x1="85.9" y1="292.2" x2="92.6" y2="299.2"/>
<line x1="91.6" y1="321.1" x2="98.4" y2="328.5"/>
<line x1="211" y1="345.8" x2="264.5" y2="351.9"/>
<line x1="255" y1="358.3" x2="264.5" y2="351.9"/>
</g>
<rect x="84.1" y="299.2" width="31.8" height="13.3" rx="2.6" fill="#fff" stroke="#000" stroke-width="1"/>
<text x="100.0" y="309.8" font-size="10.9" text-anchor="middle" textLength="25.8" lengthAdjust="spacingAndGlyphs" stroke="#000" stroke-width="0.15">HIRA</text>
<rect x="82.9" y="328.5" width="45.2" height="13.0" rx="2.6" fill="#fff" stroke="#000" stroke-width="1"/>
<text x="105.5" y="338.8" font-size="10.9" text-anchor="middle" textLength="39.2" lengthAdjust="spacingAndGlyphs" stroke="#000" stroke-width="0.15">CABIN1</text>
<rect x="152.5" y="339.3" width="58.5" height="13.0" rx="2.6" fill="#fff" stroke="#000" stroke-width="1"/>
<text x="181.8" y="349.6" font-size="10.9" text-anchor="middle" textLength="52.5" lengthAdjust="spacingAndGlyphs" stroke="#000" stroke-width="0.15">SMARCA4</text>
<rect x="223.0" y="358.3" width="32.9" height="11.6" rx="2.6" fill="#fff" stroke="#000" stroke-width="1"/>
<text x="239.4" y="367.2" font-size="10.9" text-anchor="middle" textLength="26.9" lengthAdjust="spacingAndGlyphs" stroke="#000" stroke-width="0.15">ACE2</text>
<rect x="230.3" y="414.8" width="32.9" height="12.5" rx="2.6" fill="#fff" stroke="#000" stroke-width="1"/>
<text x="246.8" y="424.6" font-size="10.9" text-anchor="middle" textLength="26.9" lengthAdjust="spacingAndGlyphs" stroke="#000" stroke-width="0.15">CTSL</text>
<rect x="182.5" y="450.2" width="57.5" height="12.7" rx="2.6" fill="#fff" stroke="#000" stroke-width="1"/>
<text x="211.2" y="460.2" font-size="10.9" text-anchor="middle" textLength="51.5" lengthAdjust="spacingAndGlyphs" stroke="#000" stroke-width="0.15">TMPRSS2</text>
<text x="11.20" y="555.60" font-size="16.5" text-anchor="start" fill="#000">C</text>
<text x="148.60" y="572.40" font-size="12.5" text-anchor="middle" fill="#000">Guide enrichment</text>
<line x1="76.7" y1="621.1" x2="76.7" y2="629.5" stroke="#cfcfcf" stroke-width="0.8"/>
<line x1="76.7" y1="644.0" x2="76.7" y2="652.3" stroke="#cfcfcf" stroke-width="0.8"/>
<line x1="76.7" y1="667.2" x2="76.7" y2="675.5" stroke="#cfcfcf" stroke-width="0.8"/>
<line x1="76.7" y1="690.4" x2="76.7" y2="698.7" stroke="#cfcfcf" stroke-width="0.8"/>
<line x1="112.2" y1="621.1" x2="112.2" y2="629.5" stroke="#cfcfcf" stroke-width="0.8"/>
<line x1="112.2" y1="644.0" x2="112.2" y2="652.3" stroke="#cfcfcf" stroke-width="0.8"/>
<line x1="112.2" y1="667.2" x2="112.2" y2="675.5" stroke="#cfcfcf" stroke-width="0.8"/>
<line x1="112.2" y1="690.4" x2="112.2" y2="698.7" stroke="#cfcfcf" stroke-width="0.8"/>
<line x1="147.8" y1="621.1" x2="147.8" y2="629.5" stroke="#cfcfcf" stroke-width="0.8"/>
<line x1="147.8" y1="644.0" x2="147.8" y2="652.3" stroke="#cfcfcf" stroke-width="0.8"/>
<line x1="147.8" y1="667.2" x2="147.8" y2="675.5" stroke="#cfcfcf" stroke-width="0.8"/>
<line x1="147.8" y1="690.4" x2="147.8" y2="698.7" stroke="#cfcfcf" stroke-width="0.8"/>
<line x1="183.4" y1="621.1" x2="183.4" y2="629.5" stroke="#cfcfcf" stroke-width="0.8"/>
<line x1="183.4" y1="644.0" x2="183.4" y2="652.3" stroke="#cfcfcf" stroke-width="0.8"/>
<line x1="183.4" y1="667.2" x2="183.4" y2="675.5" stroke="#cfcfcf" stroke-width="0.8"/>
<line x1="183.4" y1="690.4" x2="183.4" y2="698.7" stroke="#cfcfcf" stroke-width="0.8"/>
<line x1="218.9" y1="621.1" x2="218.9" y2="629.5" stroke="#cfcfcf" stroke-width="0.8"/>
<line x1="218.9" y1="644.0" x2="218.9" y2="652.3" stroke="#cfcfcf" stroke-width="0.8"/>
<line x1="218.9" y1="667.2" x2="218.9" y2="675.5" stroke="#cfcfcf" stroke-width="0.8"/>
<line x1="218.9" y1="690.4" x2="218.9" y2="698.7" stroke="#cfcfcf" stroke-width="0.8"/>
<line x1="180.5" y1="625.3" x2="180.5" y2="644.0" stroke="#e06666" stroke-width="0.9"/>
<line x1="186.7" y1="625.3" x2="186.7" y2="644.0" stroke="#e06666" stroke-width="0.9"/>
<line x1="196.7" y1="625.3" x2="196.7" y2="644.0" stroke="#e06666" stroke-width="0.9"/>
<line x1="198.5" y1="625.3" x2="198.5" y2="644.0" stroke="#e06666" stroke-width="0.9"/>
<line x1="184.7" y1="648.1" x2="184.7" y2="667.2" stroke="#e06666" stroke-width="0.9"/>
<line x1="185.6" y1="648.1" x2="185.6" y2="667.2" stroke="#e06666" stroke-width="0.9"/>
<line x1="193.2" y1="648.1" x2="193.2" y2="667.2" stroke="#e06666" stroke-width="0.9"/>
<line x1="198.6" y1="648.1" x2="198.6" y2="667.2" stroke="#e06666" stroke-width="0.9"/>
<line x1="161.3" y1="671.3" x2="161.3" y2="690.4" stroke="#e06666" stroke-width="0.9"/>
<line x1="173.8" y1="671.3" x2="173.8" y2="690.4" stroke="#e06666" stroke-width="0.9"/>
<line x1="179.3" y1="671.3" x2="179.3" y2="690.4" stroke="#e06666" stroke-width="0.9"/>
<line x1="181.9" y1="671.3" x2="181.9" y2="690.4" stroke="#e06666" stroke-width="0.9"/>
<line x1="149.4" y1="694.5" x2="149.4" y2="712.9" stroke="#e06666" stroke-width="0.9"/>
<line x1="150.2" y1="694.5" x2="150.2" y2="712.9" stroke="#e06666" stroke-width="0.9"/>
<line x1="151.0" y1="694.5" x2="151.0" y2="712.9" stroke="#e06666" stroke-width="0.9"/>
<line x1="170.1" y1="694.5" x2="170.1" y2="712.9" stroke="#e06666" stroke-width="0.9"/>
<polyline points="58.90,620.40 59.79,620.40 60.68,620.40 61.57,620.40 62.46,620.40 63.34,620.40 64.23,620.40 65.12,620.40 66.01,620.40 66.90,620.40 67.79,620.40 68.68,620.40 69.57,620.39 70.46,620.39 71.35,620.39 72.24,620.39 73.12,620.39 74.01,620.39 74.90,620.39 75.79,620.39 76.68,620.38 77.57,620.38 78.46,620.38 79.35,620.38 80.24,620.37 81.12,620.37 82.01,620.36 82.90,620.36 83.79,620.35 84.68,620.35 85.57,620.34 86.46,620.33 87.35,620.32 88.24,620.31 89.13,620.30 90.02,620.29 90.90,620.27 91.79,620.25 92.68,620.23 93.57,620.21 94.46,620.19 95.35,620.16 96.24,620.13 97.13,620.10 98.02,620.06 98.91,620.02 99.79,619.97 100.68,619.92 101.57,619.86 102.46,619.80 103.35,619.73 104.24,619.65 105.13,619.56 106.02,619.47 106.91,619.36 107.80,619.25 108.68,619.12 109.57,618.98 110.46,618.82 111.35,618.65 112.24,618.46 113.13,618.26 114.02,618.04 114.91,617.79 115.80,617.53 116.69,617.24 117.57,616.93 118.46,616.59 119.35,616.22 120.24,615.82 121.13,615.39 122.02,614.93 122.91,614.43 123.80,613.89 124.69,613.32 125.58,612.71 126.46,612.05 127.35,611.35 128.24,610.61 129.13,609.82 130.02,608.99 130.91,608.11 131.80,607.18 132.69,606.21 133.58,605.19 134.47,604.13 135.35,603.03 136.24,601.88 137.13,600.70 138.02,599.48 138.91,598.23 139.80,596.97 140.69,595.68 141.58,594.39 142.47,593.11 143.36,591.84 144.24,590.60 145.13,589.41 146.02,588.29 146.91,587.27 147.80,586.38 148.69,585.72 149.58,585.62 150.47,586.23 151.36,587.08 152.25,588.07 153.13,589.18 154.02,590.35 154.91,591.59 155.80,592.85 156.69,594.14 157.58,595.43 158.47,596.71 159.36,597.98 160.25,599.23 161.14,600.46 162.02,601.65 162.91,602.80 163.80,603.91 164.69,604.99 165.58,606.01 166.47,606.99 167.36,607.93 168.25,608.82 169.14,609.66 170.03,610.46 170.91,611.21 171.80,611.92 172.69,612.58 173.58,613.20 174.47,613.78 175.36,614.32 176.25,614.83 177.14,615.30 178.03,615.74 178.92,616.14 179.80,616.52 180.69,616.86 181.58,617.18 182.47,617.47 183.36,617.74 184.25,617.99 185.14,618.22 186.03,618.42 186.92,618.61 187.81,618.79 188.69,618.95 189.58,619.09 190.47,619.22 191.36,619.34 192.25,619.45 193.14,619.55 194.03,619.63 194.92,619.71 195.81,619.79 196.70,619.85 197.58,619.91 198.47,619.96 199.36,620.01 200.25,620.05 201.14,620.09 202.03,620.13 202.92,620.16 203.81,620.18 204.70,620.21 205.59,620.23 206.47,620.25 207.36,620.27 208.25,620.28 209.14,620.30 210.03,620.31 210.92,620.32 211.81,620.33 212.70,620.34 213.59,620.35 214.48,620.35 215.36,620.36 216.25,620.36 217.14,620.37 218.03,620.37 218.92,620.38 219.81,620.38 220.70,620.38 221.59,620.38 222.48,620.39 223.37,620.39 224.25,620.39 225.14,620.39 226.03,620.39 226.92,620.39 227.81,620.39 228.70,620.39 229.59,620.40 230.48,620.40 231.37,620.40 232.26,620.40 233.14,620.40 234.03,620.40 234.92,620.40 235.81,620.40 236.70,620.40" fill="none" stroke="#000" stroke-width="1.2"/>
<rect x="59.3" y="583.8" width="177.1" height="37.3" fill="none" stroke="#444" stroke-width="1.1"/>
<rect x="59.3" y="625.3" width="177.1" height="18.7" fill="none" stroke="#444" stroke-width="1.1"/>
<rect x="59.3" y="648.1" width="177.1" height="19.1" fill="none" stroke="#444" stroke-width="1.1"/>
<rect x="59.3" y="671.3" width="177.1" height="19.1" fill="none" stroke="#444" stroke-width="1.1"/>
<rect x="59.3" y="694.5" width="177.1" height="18.4" fill="none" stroke="#444" stroke-width="1.1"/>
<line x1="76.7" y1="712.9" x2="76.7" y2="719.0" stroke="#c8c8c8" stroke-width="0.8"/>
<text x="76.68" y="735.80" font-size="12" text-anchor="middle" fill="#4d4d4d">−4</text>
<line x1="112.2" y1="712.9" x2="112.2" y2="719.0" stroke="#c8c8c8" stroke-width="0.8"/>
<text x="112.24" y="735.80" font-size="12" text-anchor="middle" fill="#4d4d4d">−2</text>
<line x1="147.8" y1="712.9" x2="147.8" y2="719.0" stroke="#c8c8c8" stroke-width="0.8"/>
<text x="147.80" y="735.80" font-size="12" text-anchor="middle" fill="#4d4d4d">0</text>
<line x1="183.4" y1="712.9" x2="183.4" y2="719.0" stroke="#c8c8c8" stroke-width="0.8"/>
<text x="183.36" y="735.80" font-size="12" text-anchor="middle" fill="#4d4d4d">2</text>
<line x1="218.9" y1="712.9" x2="218.9" y2="719.0" stroke="#c8c8c8" stroke-width="0.8"/>
<text x="218.92" y="735.80" font-size="12" text-anchor="middle" fill="#4d4d4d">4</text>
<text x="147.80" y="752.50" font-size="12.5" text-anchor="middle" fill="#4d4d4d">mean residual</text>
<text x="242.00" y="608.20" font-size="12.6" text-anchor="start" fill="#000">full library</text>
<text x="242.00" y="638.80" font-size="12.6" text-anchor="start" fill="#4d4d4d">ACE2</text>
<text x="242.00" y="661.40" font-size="12.6" text-anchor="start" fill="#4d4d4d">SMARCA4</text>
<text x="242.00" y="684.40" font-size="12.6" text-anchor="start" fill="#4d4d4d">CTSL</text>
<text x="242.00" y="707.70" font-size="12.6" text-anchor="start" fill="#4d4d4d">TMPRSS2</text>
<text x="350.00" y="263.10" font-size="16.5" text-anchor="start" fill="#000">D</text>
<text x="439.80" y="276.60" font-size="12.7" text-anchor="middle" fill="#000">Resistance</text>
<text x="570.20" y="276.60" font-size="12.7" text-anchor="middle" fill="#000">Sensitization</text>
<g shape-rendering="crispEdges">
<rect x="400.70" y="288.30" width="16.47" height="16.54" fill="#e27c62"/>
<rect x="416.87" y="288.30" width="16.47" height="16.54" fill="#da6954"/>
<rect x="433.04" y="288.30" width="16.47" height="16.54" fill="#bd2e35"/>
<rect x="449.21" y="288.30" width="16.47" height="16.54" fill="#d7624f"/>
<rect x="465.38" y="288.30" width="16.47" height="16.54" fill="#d45b4b"/>
<rect x="400.70" y="304.54" width="16.47" height="16.54" fill="#db6c56"/>
<rect x="416.87" y="304.54" width="16.47" height="16.54" fill="#cf5246"/>
<rect x="433.04" y="304.54" width="16.47" height="16.54" fill="#b92632"/>
<rect x="449.21" y="304.54" width="16.47" height="16.54" fill="#e68569"/>
<rect x="465.38" y="304.54" width="16.47" height="16.54" fill="#d6604d"/>
<rect x="400.70" y="320.77" width="16.47" height="16.54" fill="#d15648"/>
<rect x="416.87" y="320.77" width="16.47" height="16.54" fill="#d45b4b"/>
<rect x="433.04" y="320.77" width="16.47" height="16.54" fill="#d86551"/>
<rect x="449.21" y="320.77" width="16.47" height="16.54" fill="#e68569"/>
<rect x="465.38" y="320.77" width="16.47" height="16.54" fill="#d86551"/>
<rect x="400.70" y="337.00" width="16.47" height="16.54" fill="#e27c62"/>
<rect x="416.87" y="337.00" width="16.47" height="16.54" fill="#e27c62"/>
<rect x="433.04" y="337.00" width="16.47" height="16.54" fill="#d35a4a"/>
<rect x="449.21" y="337.00" width="16.47" height="16.54" fill="#d6604d"/>
<rect x="465.38" y="337.00" width="16.47" height="16.54" fill="#ee9777"/>
<rect x="400.70" y="353.24" width="16.47" height="16.54" fill="#dc6e58"/>
<rect x="416.87" y="353.24" width="16.47" height="16.54" fill="#e8896d"/>
<rect x="433.04" y="353.24" width="16.47" height="16.54" fill="#d65f4d"/>
<rect x="449.21" y="353.24" width="16.47" height="16.54" fill="#e8896d"/>
<rect x="465.38" y="353.24" width="16.47" height="16.54" fill="#f4a582"/>
<rect x="400.70" y="369.48" width="16.47" height="16.54" fill="#e8896d"/>
<rect x="416.87" y="369.48" width="16.47" height="16.54" fill="#e0775f"/>
<rect x="433.04" y="369.48" width="16.47" height="16.54" fill="#d35a4a"/>
<rect x="449.21" y="369.48" width="16.47" height="16.54" fill="#f09c7b"/>
<rect x="465.38" y="369.48" width="16.47" height="16.54" fill="#ec9374"/>
<rect x="400.70" y="385.71" width="16.47" height="16.54" fill="#e68569"/>
<rect x="416.87" y="385.71" width="16.47" height="16.54" fill="#de725b"/>
<rect x="433.04" y="385.71" width="16.47" height="16.54" fill="#dc6e58"/>
<rect x="449.21" y="385.71" width="16.47" height="16.54" fill="#f5a987"/>
<rect x="465.38" y="385.71" width="16.47" height="16.54" fill="#e27c62"/>
<rect x="400.70" y="401.94" width="16.47" height="16.54" fill="#f5ac8b"/>
<rect x="416.87" y="401.94" width="16.47" height="16.54" fill="#f2a07e"/>
<rect x="433.04" y="401.94" width="16.47" height="16.54" fill="#d35a4a"/>
<rect x="449.21" y="401.94" width="16.47" height="16.54" fill="#da6954"/>
<rect x="465.38" y="401.94" width="16.47" height="16.54" fill="#de725b"/>
<rect x="400.70" y="418.18" width="16.47" height="16.54" fill="#ec9374"/>
<rect x="416.87" y="418.18" width="16.47" height="16.54" fill="#ea8e70"/>
<rect x="433.04" y="418.18" width="16.47" height="16.54" fill="#d35a4a"/>
<rect x="449.21" y="418.18" width="16.47" height="16.54" fill="#ee9777"/>
<rect x="465.38" y="418.18" width="16.47" height="16.54" fill="#e68569"/>
<rect x="400.70" y="434.42" width="16.47" height="16.54" fill="#e48066"/>
<rect x="416.87" y="434.42" width="16.47" height="16.54" fill="#e8896d"/>
<rect x="433.04" y="434.42" width="16.47" height="16.54" fill="#e0775f"/>
<rect x="449.21" y="434.42" width="16.47" height="16.54" fill="#f09c7b"/>
<rect x="465.38" y="434.42" width="16.47" height="16.54" fill="#e8896d"/>
<rect x="400.70" y="450.65" width="16.47" height="16.54" fill="#f5a987"/>
<rect x="416.87" y="450.65" width="16.47" height="16.54" fill="#e48066"/>
<rect x="433.04" y="450.65" width="16.47" height="16.54" fill="#f2a07e"/>
<rect x="449.21" y="450.65" width="16.47" height="16.54" fill="#e8896d"/>
<rect x="465.38" y="450.65" width="16.47" height="16.54" fill="#f2a07e"/>
<rect x="400.70" y="466.88" width="16.47" height="16.54" fill="#e68569"/>
<rect x="416.87" y="466.88" width="16.47" height="16.54" fill="#f6b090"/>
<rect x="433.04" y="466.88" width="16.47" height="16.54" fill="#ec9374"/>
<rect x="449.21" y="466.88" width="16.47" height="16.54" fill="#fcd4be"/>
<rect x="465.38" y="466.88" width="16.47" height="16.54" fill="#d86551"/>
<rect x="400.70" y="483.12" width="16.47" height="16.54" fill="#f6b394"/>
<rect x="416.87" y="483.12" width="16.47" height="16.54" fill="#f6b394"/>
<rect x="433.04" y="483.12" width="16.47" height="16.54" fill="#e8896d"/>
<rect x="449.21" y="483.12" width="16.47" height="16.54" fill="#e48066"/>
<rect x="465.38" y="483.12" width="16.47" height="16.54" fill="#ec9374"/>
<rect x="400.70" y="499.36" width="16.47" height="16.54" fill="#f4a582"/>
<rect x="416.87" y="499.36" width="16.47" height="16.54" fill="#f09c7b"/>
<rect x="433.04" y="499.36" width="16.47" height="16.54" fill="#ec9374"/>
<rect x="449.21" y="499.36" width="16.47" height="16.54" fill="#f5a987"/>
<rect x="465.38" y="499.36" width="16.47" height="16.54" fill="#f5a987"/>
<rect x="400.70" y="515.59" width="16.47" height="16.54" fill="#f2a07e"/>
<rect x="416.87" y="515.59" width="16.47" height="16.54" fill="#f09c7b"/>
<rect x="433.04" y="515.59" width="16.47" height="16.54" fill="#e27c62"/>
<rect x="449.21" y="515.59" width="16.47" height="16.54" fill="#f6b394"/>
<rect x="465.38" y="515.59" width="16.47" height="16.54" fill="#f6b394"/>
<rect x="400.70" y="531.83" width="16.47" height="16.54" fill="#e48066"/>
<rect x="416.87" y="531.83" width="16.47" height="16.54" fill="#ee9777"/>
<rect x="433.04" y="531.83" width="16.47" height="16.54" fill="#f09c7b"/>
<rect x="449.21" y="531.83" width="16.47" height="16.54" fill="#fbcdb5"/>
<rect x="465.38" y="531.83" width="16.47" height="16.54" fill="#ec9374"/>
<rect x="400.70" y="548.06" width="16.47" height="16.54" fill="#f5ac8b"/>
<rect x="416.87" y="548.06" width="16.47" height="16.54" fill="#e8896d"/>
<rect x="433.04" y="548.06" width="16.47" height="16.54" fill="#f09c7b"/>
<rect x="449.21" y="548.06" width="16.47" height="16.54" fill="#ec9374"/>
<rect x="465.38" y="548.06" width="16.47" height="16.54" fill="#f8bea2"/>
<rect x="400.70" y="564.30" width="16.47" height="16.54" fill="#f7b799"/>
<rect x="416.87" y="564.30" width="16.47" height="16.54" fill="#f8bb9e"/>
<rect x="433.04" y="564.30" width="16.47" height="16.54" fill="#ec9374"/>
<rect x="449.21" y="564.30" width="16.47" height="16.54" fill="#ec9374"/>
<rect x="465.38" y="564.30" width="16.47" height="16.54" fill="#e8896d"/>
<rect x="400.70" y="580.53" width="16.47" height="16.54" fill="#f7b799"/>
<rect x="416.87" y="580.53" width="16.47" height="16.54" fill="#f6b090"/>
<rect x="433.04" y="580.53" width="16.47" height="16.54" fill="#f5a987"/>
<rect x="449.21" y="580.53" width="16.47" height="16.54" fill="#f5a987"/>
<rect x="465.38" y="580.53" width="16.47" height="16.54" fill="#f5a987"/>
<rect x="400.70" y="596.76" width="16.47" height="16.54" fill="#f7b799"/>
<rect x="416.87" y="596.76" width="16.47" height="16.54" fill="#ee9777"/>
<rect x="433.04" y="596.76" width="16.47" height="16.54" fill="#e68569"/>
<rect x="449.21" y="596.76" width="16.47" height="16.54" fill="#f9c2a7"/>
<rect x="465.38" y="596.76" width="16.47" height="16.54" fill="#f4a582"/>
<rect x="400.70" y="613.00" width="16.47" height="16.54" fill="#f8bea2"/>
<rect x="416.87" y="613.00" width="16.47" height="16.54" fill="#f5a987"/>
<rect x="433.04" y="613.00" width="16.47" height="16.54" fill="#ea8e70"/>
<rect x="449.21" y="613.00" width="16.47" height="16.54" fill="#f8bb9e"/>
<rect x="465.38" y="613.00" width="16.47" height="16.54" fill="#f5ac8b"/>
<rect x="400.70" y="629.24" width="16.47" height="16.54" fill="#e8896d"/>
<rect x="416.87" y="629.24" width="16.47" height="16.54" fill="#f9c2a7"/>
<rect x="433.04" y="629.24" width="16.47" height="16.54" fill="#e68569"/>
<rect x="449.21" y="629.24" width="16.47" height="16.54" fill="#f9c2a7"/>
<rect x="465.38" y="629.24" width="16.47" height="16.54" fill="#f6b394"/>
<rect x="400.70" y="645.47" width="16.47" height="16.54" fill="#f5ac8b"/>
<rect x="416.87" y="645.47" width="16.47" height="16.54" fill="#f4a582"/>
<rect x="433.04" y="645.47" width="16.47" height="16.54" fill="#ee9777"/>
<rect x="449.21" y="645.47" width="16.47" height="16.54" fill="#f4a582"/>
<rect x="465.38" y="645.47" width="16.47" height="16.54" fill="#f9c2a7"/>
<rect x="400.70" y="661.70" width="16.47" height="16.54" fill="#f6b394"/>
<rect x="416.87" y="661.70" width="16.47" height="16.54" fill="#f4a582"/>
<rect x="433.04" y="661.70" width="16.47" height="16.54" fill="#ee9777"/>
<rect x="449.21" y="661.70" width="16.47" height="16.54" fill="#f4a582"/>
<rect x="465.38" y="661.70" width="16.47" height="16.54" fill="#f9c2a7"/>
<rect x="400.70" y="677.94" width="16.47" height="16.54" fill="#f5ac8b"/>
<rect x="416.87" y="677.94" width="16.47" height="16.54" fill="#f9c2a7"/>
<rect x="433.04" y="677.94" width="16.47" height="16.54" fill="#ec9374"/>
<rect x="449.21" y="677.94" width="16.47" height="16.54" fill="#f6b394"/>
<rect x="465.38" y="677.94" width="16.47" height="16.54" fill="#f6b090"/>
</g>
<line x1="396.1" y1="296.42" x2="400.4" y2="296.42" stroke="#333" stroke-width="1"/>
<text x="392.30" y="299.32" font-size="8.1" text-anchor="end" fill="#222">ACE2</text>
<line x1="396.1" y1="312.65" x2="400.4" y2="312.65" stroke="#333" stroke-width="1"/>
<text x="392.30" y="315.55" font-size="8.1" text-anchor="end" fill="#d2693c" font-weight="bold">SMARCA4</text>
<line x1="396.1" y1="328.89" x2="400.4" y2="328.89" stroke="#333" stroke-width="1"/>
<text x="392.30" y="331.79" font-size="8.1" text-anchor="end" fill="#222">DYRK1A</text>
<line x1="396.1" y1="345.12" x2="400.4" y2="345.12" stroke="#333" stroke-width="1"/>
<text x="392.30" y="348.02" font-size="8.1" text-anchor="end" fill="#222">KDM6A</text>
<line x1="396.1" y1="361.36" x2="400.4" y2="361.36" stroke="#333" stroke-width="1"/>
<text x="392.30" y="364.26" font-size="8.1" text-anchor="end" fill="#222">DPF2</text>
<line x1="396.1" y1="377.59" x2="400.4" y2="377.59" stroke="#333" stroke-width="1"/>
<text x="392.30" y="380.49" font-size="8.1" text-anchor="end" fill="#222">JMJD6</text>
<line x1="396.1" y1="393.83" x2="400.4" y2="393.83" stroke="#333" stroke-width="1"/>
<text x="392.30" y="396.73" font-size="8.1" text-anchor="end" fill="#222">UBXN7</text>
<line x1="396.1" y1="410.06" x2="400.4" y2="410.06" stroke="#333" stroke-width="1"/>
<text x="392.30" y="412.96" font-size="8.1" text-anchor="end" fill="#222">RAD54L2</text>
<line x1="396.1" y1="426.30" x2="400.4" y2="426.30" stroke="#333" stroke-width="1"/>
<text x="392.30" y="429.20" font-size="8.1" text-anchor="end" fill="#d2693c" font-weight="bold">ARID1A</text>
<line x1="396.1" y1="442.53" x2="400.4" y2="442.53" stroke="#333" stroke-width="1"/>
<text x="392.30" y="439.53" font-size="8.1" text-anchor="end" fill="#222">LOC103214541</text>
<text x="392.30" y="449.13" font-size="8.1" text-anchor="end" fill="#222">(HMGB1-like)</text>
<line x1="396.1" y1="458.77" x2="400.4" y2="458.77" stroke="#333" stroke-width="1"/>
<text x="392.30" y="461.67" font-size="8.1" text-anchor="end" fill="#222">TRAF3</text>
<line x1="396.1" y1="475.00" x2="400.4" y2="475.00" stroke="#333" stroke-width="1"/>
<text x="392.30" y="477.90" font-size="8.1" text-anchor="end" fill="#222">LOC103226512</text>
<line x1="396.1" y1="491.24" x2="400.4" y2="491.24" stroke="#333" stroke-width="1"/>
<text x="392.30" y="494.14" font-size="8.1" text-anchor="end" fill="#222">SERTAD4</text>
<line x1="396.1" y1="507.47" x2="400.4" y2="507.47" stroke="#333" stroke-width="1"/>
<text x="392.30" y="510.37" font-size="8.1" text-anchor="end" fill="#222">PHIP</text>
<line x1="396.1" y1="523.71" x2="400.4" y2="523.71" stroke="#333" stroke-width="1"/>
<text x="392.30" y="526.61" font-size="8.1" text-anchor="end" fill="#7b73b8" font-weight="bold">SMAD4</text>
<line x1="396.1" y1="539.94" x2="400.4" y2="539.94" stroke="#333" stroke-width="1"/>
<text x="392.30" y="542.84" font-size="8.1" text-anchor="end" fill="#222">SH3YL1</text>
<line x1="396.1" y1="556.18" x2="400.4" y2="556.18" stroke="#333" stroke-width="1"/>
<text x="392.30" y="559.08" font-size="8.1" text-anchor="end" fill="#222">LDB1</text>
<line x1="396.1" y1="572.41" x2="400.4" y2="572.41" stroke="#333" stroke-width="1"/>
<text x="392.30" y="575.31" font-size="8.1" text-anchor="end" fill="#d6399a" font-weight="bold">CTSL</text>
<line x1="396.1" y1="588.65" x2="400.4" y2="588.65" stroke="#333" stroke-width="1"/>
<text x="392.30" y="591.55" font-size="8.1" text-anchor="end" fill="#222">CREBBP</text>
<line x1="396.1" y1="604.88" x2="400.4" y2="604.88" stroke="#333" stroke-width="1"/>
<text x="392.30" y="607.78" font-size="8.1" text-anchor="end" fill="#d2693c" font-weight="bold">SMARCE1</text>
<line x1="396.1" y1="621.12" x2="400.4" y2="621.12" stroke="#333" stroke-width="1"/>
<text x="392.30" y="624.02" font-size="8.1" text-anchor="end" fill="#7b73b8" font-weight="bold">SMAD3</text>
<line x1="396.1" y1="637.35" x2="400.4" y2="637.35" stroke="#333" stroke-width="1"/>
<text x="392.30" y="640.25" font-size="8.1" text-anchor="end" fill="#222">LOC103244676</text>
<line x1="396.1" y1="653.59" x2="400.4" y2="653.59" stroke="#333" stroke-width="1"/>
<text x="392.30" y="656.49" font-size="8.1" text-anchor="end" fill="#222">OSBPL8</text>
<line x1="396.1" y1="669.82" x2="400.4" y2="669.82" stroke="#333" stroke-width="1"/>
<text x="392.30" y="672.72" font-size="8.1" text-anchor="end" fill="#222">SPTY2D1</text>
<line x1="396.1" y1="686.06" x2="400.4" y2="686.06" stroke="#333" stroke-width="1"/>
<text x="392.30" y="688.96" font-size="8.1" text-anchor="end" fill="#222">RYBP</text>
<text x="407.60" y="708.30" font-size="12.3" text-anchor="middle" fill="#4d4d4d">a</text>
<text x="424.30" y="708.30" font-size="12.3" text-anchor="middle" fill="#4d4d4d">b</text>
<text x="441.40" y="708.30" font-size="12.3" text-anchor="middle" fill="#4d4d4d">c</text>
<text x="457.70" y="708.30" font-size="12.3" text-anchor="middle" fill="#4d4d4d">d</text>
<text x="474.50" y="708.30" font-size="12.3" text-anchor="middle" fill="#4d4d4d">e</text>
<text x="442.90" y="727.20" font-size="12.5" text-anchor="middle" fill="#4d4d4d">condition</text>
<g shape-rendering="crispEdges">
<rect x="533.20" y="288.30" width="16.47" height="16.54" fill="#539dc8"/>
<rect x="549.37" y="288.30" width="16.47" height="16.54" fill="#0b3b70"/>
<rect x="565.54" y="288.30" width="16.47" height="16.54" fill="#4190c1"/>
<rect x="581.71" y="288.30" width="16.47" height="16.54" fill="#4190c1"/>
<rect x="597.88" y="288.30" width="16.47" height="16.54" fill="#0e427a"/>
<rect x="533.20" y="304.54" width="16.47" height="16.54" fill="#337eb8"/>
<rect x="549.37" y="304.54" width="16.47" height="16.54" fill="#3884bb"/>
<rect x="565.54" y="304.54" width="16.47" height="16.54" fill="#3581ba"/>
<rect x="581.71" y="304.54" width="16.47" height="16.54" fill="#2c75b4"/>
<rect x="597.88" y="304.54" width="16.47" height="16.54" fill="#2c75b4"/>
<rect x="533.20" y="320.77" width="16.47" height="16.54" fill="#3581ba"/>
<rect x="549.37" y="320.77" width="16.47" height="16.54" fill="#3c8abe"/>
<rect x="565.54" y="320.77" width="16.47" height="16.54" fill="#63a7ce"/>
<rect x="581.71" y="320.77" width="16.47" height="16.54" fill="#4896c5"/>
<rect x="597.88" y="320.77" width="16.47" height="16.54" fill="#4393c3"/>
<rect x="533.20" y="337.00" width="16.47" height="16.54" fill="#96c7df"/>
<rect x="549.37" y="337.00" width="16.47" height="16.54" fill="#58a0ca"/>
<rect x="565.54" y="337.00" width="16.47" height="16.54" fill="#266caf"/>
<rect x="581.71" y="337.00" width="16.47" height="16.54" fill="#4190c1"/>
<rect x="597.88" y="337.00" width="16.47" height="16.54" fill="#4e9ac7"/>
<rect x="533.20" y="353.24" width="16.47" height="16.54" fill="#72b1d3"/>
<rect x="549.37" y="353.24" width="16.47" height="16.54" fill="#9ac9e0"/>
<rect x="565.54" y="353.24" width="16.47" height="16.54" fill="#3c8abe"/>
<rect x="581.71" y="353.24" width="16.47" height="16.54" fill="#2f78b5"/>
<rect x="597.88" y="353.24" width="16.47" height="16.54" fill="#4393c3"/>
<rect x="533.20" y="369.48" width="16.47" height="16.54" fill="#4393c3"/>
<rect x="549.37" y="369.48" width="16.47" height="16.54" fill="#2c75b4"/>
<rect x="565.54" y="369.48" width="16.47" height="16.54" fill="#72b1d3"/>
<rect x="581.71" y="369.48" width="16.47" height="16.54" fill="#72b1d3"/>
<rect x="597.88" y="369.48" width="16.47" height="16.54" fill="#87beda"/>
<rect x="533.20" y="385.71" width="16.47" height="16.54" fill="#6daed1"/>
<rect x="549.37" y="385.71" width="16.47" height="16.54" fill="#4896c5"/>
<rect x="565.54" y="385.71" width="16.47" height="16.54" fill="#4e9ac7"/>
<rect x="581.71" y="385.71" width="16.47" height="16.54" fill="#5da4cc"/>
<rect x="597.88" y="385.71" width="16.47" height="16.54" fill="#5da4cc"/>
<rect x="533.20" y="401.94" width="16.47" height="16.54" fill="#539dc8"/>
<rect x="549.37" y="401.94" width="16.47" height="16.54" fill="#4190c1"/>
<rect x="565.54" y="401.94" width="16.47" height="16.54" fill="#c0dceb"/>
<rect x="581.71" y="401.94" width="16.47" height="16.54" fill="#3e8dc0"/>
<rect x="597.88" y="401.94" width="16.47" height="16.54" fill="#4e9ac7"/>
<rect x="533.20" y="418.18" width="16.47" height="16.54" fill="#68aad0"/>
<rect x="549.37" y="418.18" width="16.47" height="16.54" fill="#4896c5"/>
<rect x="565.54" y="418.18" width="16.47" height="16.54" fill="#3c8abe"/>
<rect x="581.71" y="418.18" width="16.47" height="16.54" fill="#abd2e5"/>
<rect x="597.88" y="418.18" width="16.47" height="16.54" fill="#4190c1"/>
<rect x="533.20" y="434.42" width="16.47" height="16.54" fill="#7db8d7"/>
<rect x="549.37" y="434.42" width="16.47" height="16.54" fill="#4896c5"/>
<rect x="565.54" y="434.42" width="16.47" height="16.54" fill="#72b1d3"/>
<rect x="581.71" y="434.42" width="16.47" height="16.54" fill="#4190c1"/>
<rect x="597.88" y="434.42" width="16.47" height="16.54" fill="#68aad0"/>
<rect x="533.20" y="450.65" width="16.47" height="16.54" fill="#a3cee3"/>
<rect x="549.37" y="450.65" width="16.47" height="16.54" fill="#4190c1"/>
<rect x="565.54" y="450.65" width="16.47" height="16.54" fill="#4393c3"/>
<rect x="581.71" y="450.65" width="16.47" height="16.54" fill="#6daed1"/>
<rect x="597.88" y="450.65" width="16.47" height="16.54" fill="#68aad0"/>
<rect x="533.20" y="466.88" width="16.47" height="16.54" fill="#3884bb"/>
<rect x="549.37" y="466.88" width="16.47" height="16.54" fill="#6daed1"/>
<rect x="565.54" y="466.88" width="16.47" height="16.54" fill="#9ac9e0"/>
<rect x="581.71" y="466.88" width="16.47" height="16.54" fill="#72b1d3"/>
<rect x="597.88" y="466.88" width="16.47" height="16.54" fill="#3a87bd"/>
<rect x="533.20" y="483.12" width="16.47" height="16.54" fill="#2f78b5"/>
<rect x="549.37" y="483.12" width="16.47" height="16.54" fill="#3a87bd"/>
<rect x="565.54" y="483.12" width="16.47" height="16.54" fill="#87beda"/>
<rect x="581.71" y="483.12" width="16.47" height="16.54" fill="#9ac9e0"/>
<rect x="597.88" y="483.12" width="16.47" height="16.54" fill="#72b1d3"/>
<rect x="533.20" y="499.36" width="16.47" height="16.54" fill="#6daed1"/>
<rect x="549.37" y="499.36" width="16.47" height="16.54" fill="#5da4cc"/>
<rect x="565.54" y="499.36" width="16.47" height="16.54" fill="#5da4cc"/>
<rect x="581.71" y="499.36" width="16.47" height="16.54" fill="#68aad0"/>
<rect x="597.88" y="499.36" width="16.47" height="16.54" fill="#58a0ca"/>
<rect x="533.20" y="515.59" width="16.47" height="16.54" fill="#68aad0"/>
<rect x="549.37" y="515.59" width="16.47" height="16.54" fill="#72b1d3"/>
<rect x="565.54" y="515.59" width="16.47" height="16.54" fill="#3e8dc0"/>
<rect x="581.71" y="515.59" width="16.47" height="16.54" fill="#4393c3"/>
<rect x="597.88" y="515.59" width="16.47" height="16.54" fill="#9ac9e0"/>
<rect x="533.20" y="531.83" width="16.47" height="16.54" fill="#82bbd9"/>
<rect x="549.37" y="531.83" width="16.47" height="16.54" fill="#92c5de"/>
<rect x="565.54" y="531.83" width="16.47" height="16.54" fill="#3884bb"/>
<rect x="581.71" y="531.83" width="16.47" height="16.54" fill="#a3cee3"/>
<rect x="597.88" y="531.83" width="16.47" height="16.54" fill="#3884bb"/>
<rect x="533.20" y="548.06" width="16.47" height="16.54" fill="#a3cee3"/>
<rect x="549.37" y="548.06" width="16.47" height="16.54" fill="#4393c3"/>
<rect x="565.54" y="548.06" width="16.47" height="16.54" fill="#4393c3"/>
<rect x="581.71" y="548.06" width="16.47" height="16.54" fill="#4e9ac7"/>
<rect x="597.88" y="548.06" width="16.47" height="16.54" fill="#5da4cc"/>
<rect x="533.20" y="564.30" width="16.47" height="16.54" fill="#3a87bd"/>
<rect x="549.37" y="564.30" width="16.47" height="16.54" fill="#9ac9e0"/>
<rect x="565.54" y="564.30" width="16.47" height="16.54" fill="#82bbd9"/>
<rect x="581.71" y="564.30" width="16.47" height="16.54" fill="#a3cee3"/>
<rect x="597.88" y="564.30" width="16.47" height="16.54" fill="#3a87bd"/>
<rect x="533.20" y="580.53" width="16.47" height="16.54" fill="#9ac9e0"/>
<rect x="549.37" y="580.53" width="16.47" height="16.54" fill="#4190c1"/>
<rect x="565.54" y="580.53" width="16.47" height="16.54" fill="#337eb8"/>
<rect x="581.71" y="580.53" width="16.47" height="16.54" fill="#a3cee3"/>
<rect x="597.88" y="580.53" width="16.47" height="16.54" fill="#92c5de"/>
<rect x="533.20" y="596.76" width="16.47" height="16.54" fill="#4e9ac7"/>
<rect x="549.37" y="596.76" width="16.47" height="16.54" fill="#92c5de"/>
<rect x="565.54" y="596.76" width="16.47" height="16.54" fill="#92c5de"/>
<rect x="581.71" y="596.76" width="16.47" height="16.54" fill="#4190c1"/>
<rect x="597.88" y="596.76" width="16.47" height="16.54" fill="#8dc2dc"/>
<rect x="533.20" y="613.00" width="16.47" height="16.54" fill="#3a87bd"/>
<rect x="549.37" y="613.00" width="16.47" height="16.54" fill="#92c5de"/>
<rect x="565.54" y="613.00" width="16.47" height="16.54" fill="#c0dceb"/>
<rect x="581.71" y="613.00" width="16.47" height="16.54" fill="#3c8abe"/>
<rect x="597.88" y="613.00" width="16.47" height="16.54" fill="#5da4cc"/>
<rect x="533.20" y="629.24" width="16.47" height="16.54" fill="#8dc2dc"/>
<rect x="549.37" y="629.24" width="16.47" height="16.54" fill="#3c8abe"/>
<rect x="565.54" y="629.24" width="16.47" height="16.54" fill="#63a7ce"/>
<rect x="581.71" y="629.24" width="16.47" height="16.54" fill="#9ac9e0"/>
<rect x="597.88" y="629.24" width="16.47" height="16.54" fill="#92c5de"/>
<rect x="533.20" y="645.47" width="16.47" height="16.54" fill="#8dc2dc"/>
<rect x="549.37" y="645.47" width="16.47" height="16.54" fill="#72b1d3"/>
<rect x="565.54" y="645.47" width="16.47" height="16.54" fill="#6daed1"/>
<rect x="581.71" y="645.47" width="16.47" height="16.54" fill="#3e8dc0"/>
<rect x="597.88" y="645.47" width="16.47" height="16.54" fill="#92c5de"/>
<rect x="533.20" y="661.70" width="16.47" height="16.54" fill="#8dc2dc"/>
<rect x="549.37" y="661.70" width="16.47" height="16.54" fill="#72b1d3"/>
<rect x="565.54" y="661.70" width="16.47" height="16.54" fill="#4e9ac7"/>
<rect x="581.71" y="661.70" width="16.47" height="16.54" fill="#9ac9e0"/>
<rect x="597.88" y="661.70" width="16.47" height="16.54" fill="#8dc2dc"/>
<rect x="533.20" y="677.94" width="16.47" height="16.54" fill="#87beda"/>
<rect x="549.37" y="677.94" width="16.47" height="16.54" fill="#78b4d5"/>
<rect x="565.54" y="677.94" width="16.47" height="16.54" fill="#78b4d5"/>
<rect x="581.71" y="677.94" width="16.47" height="16.54" fill="#68aad0"/>
<rect x="597.88" y="677.94" width="16.47" height="16.54" fill="#8dc2dc"/>
</g>
<line x1="528.6" y1="296.42" x2="532.9" y2="296.42" stroke="#333" stroke-width="1"/>
<text x="524.80" y="299.32" font-size="8.1" text-anchor="end" fill="#222">HIRA</text>
<line x1="528.6" y1="312.65" x2="532.9" y2="312.65" stroke="#333" stroke-width="1"/>
<text x="524.80" y="315.55" font-size="8.1" text-anchor="end" fill="#222">CABIN1</text>
<line x1="528.6" y1="328.89" x2="532.9" y2="328.89" stroke="#333" stroke-width="1"/>
<text x="524.80" y="331.79" font-size="8.1" text-anchor="end" fill="#222">TRIP12</text>
<line x1="528.6" y1="345.12" x2="532.9" y2="345.12" stroke="#333" stroke-width="1"/>
<text x="524.80" y="348.02" font-size="8.1" text-anchor="end" fill="#e8aa32" font-weight="bold">BPTF</text>
<line x1="528.6" y1="361.36" x2="532.9" y2="361.36" stroke="#333" stroke-width="1"/>
<text x="524.80" y="364.26" font-size="8.1" text-anchor="end" fill="#222">NONO</text>
<line x1="528.6" y1="377.59" x2="532.9" y2="377.59" stroke="#333" stroke-width="1"/>
<text x="524.80" y="380.49" font-size="8.1" text-anchor="end" fill="#222">NDOR1</text>
<line x1="528.6" y1="393.83" x2="532.9" y2="393.83" stroke="#333" stroke-width="1"/>
<text x="524.80" y="396.73" font-size="8.1" text-anchor="end" fill="#222">TIMM10</text>
<line x1="528.6" y1="410.06" x2="532.9" y2="410.06" stroke="#333" stroke-width="1"/>
<text x="524.80" y="412.96" font-size="8.1" text-anchor="end" fill="#222">EMSY</text>
<line x1="528.6" y1="426.30" x2="532.9" y2="426.30" stroke="#333" stroke-width="1"/>
<text x="524.80" y="429.20" font-size="8.1" text-anchor="end" fill="#222">ZNF250</text>
<line x1="528.6" y1="442.53" x2="532.9" y2="442.53" stroke="#333" stroke-width="1"/>
<text x="524.80" y="445.43" font-size="8.1" text-anchor="end" fill="#222">ZMYM2</text>
<line x1="528.6" y1="458.77" x2="532.9" y2="458.77" stroke="#333" stroke-width="1"/>
<text x="524.80" y="461.67" font-size="8.1" text-anchor="end" fill="#222">XRCC3</text>
<line x1="528.6" y1="475.00" x2="532.9" y2="475.00" stroke="#333" stroke-width="1"/>
<text x="524.80" y="477.90" font-size="8.1" text-anchor="end" fill="#e8aa32" font-weight="bold">SMARCA5</text>
<line x1="528.6" y1="491.24" x2="532.9" y2="491.24" stroke="#333" stroke-width="1"/>
<text x="524.80" y="494.14" font-size="8.1" text-anchor="end" fill="#222">ADAT2</text>
<line x1="528.6" y1="507.47" x2="532.9" y2="507.47" stroke="#333" stroke-width="1"/>
<text x="524.80" y="510.37" font-size="8.1" text-anchor="end" fill="#222">SMG5</text>
<line x1="528.6" y1="523.71" x2="532.9" y2="523.71" stroke="#333" stroke-width="1"/>
<text x="524.80" y="526.61" font-size="8.1" text-anchor="end" fill="#222">TAF13</text>
<line x1="528.6" y1="539.94" x2="532.9" y2="539.94" stroke="#333" stroke-width="1"/>
<text x="524.80" y="542.84" font-size="8.1" text-anchor="end" fill="#222">KDM1A</text>
<line x1="528.6" y1="556.18" x2="532.9" y2="556.18" stroke="#333" stroke-width="1"/>
<text x="524.80" y="559.08" font-size="8.1" text-anchor="end" fill="#222">MED16</text>
<line x1="528.6" y1="572.41" x2="532.9" y2="572.41" stroke="#333" stroke-width="1"/>
<text x="524.80" y="575.31" font-size="8.1" text-anchor="end" fill="#222">KAT14</text>
<line x1="528.6" y1="588.65" x2="532.9" y2="588.65" stroke="#333" stroke-width="1"/>
<text x="524.80" y="591.55" font-size="8.1" text-anchor="end" fill="#222">PIAS2</text>
<line x1="528.6" y1="604.88" x2="532.9" y2="604.88" stroke="#333" stroke-width="1"/>
<text x="524.80" y="607.78" font-size="8.1" text-anchor="end" fill="#a88a40" font-weight="bold">GTF2H2</text>
<line x1="528.6" y1="621.12" x2="532.9" y2="621.12" stroke="#333" stroke-width="1"/>
<text x="524.80" y="624.02" font-size="8.1" text-anchor="end" fill="#5fa83c" font-weight="bold">EIF2AK4</text>
<line x1="528.6" y1="637.35" x2="532.9" y2="637.35" stroke="#333" stroke-width="1"/>
<text x="524.80" y="640.25" font-size="8.1" text-anchor="end" fill="#222">PSME3</text>
<line x1="528.6" y1="653.59" x2="532.9" y2="653.59" stroke="#333" stroke-width="1"/>
<text x="524.80" y="656.49" font-size="8.1" text-anchor="end" fill="#222">PIAS1</text>
<line x1="528.6" y1="669.82" x2="532.9" y2="669.82" stroke="#333" stroke-width="1"/>
<text x="524.80" y="672.72" font-size="8.1" text-anchor="end" fill="#222">POP5</text>
<line x1="528.6" y1="686.06" x2="532.9" y2="686.06" stroke="#333" stroke-width="1"/>
<text x="524.80" y="688.96" font-size="8.1" text-anchor="end" fill="#222">DDX42</text>
<text x="538.00" y="708.30" font-size="12.3" text-anchor="middle" fill="#4d4d4d">a</text>
<text x="554.60" y="708.30" font-size="12.3" text-anchor="middle" fill="#4d4d4d">b</text>
<text x="571.90" y="708.30" font-size="12.3" text-anchor="middle" fill="#4d4d4d">c</text>
<text x="588.20" y="708.30" font-size="12.3" text-anchor="middle" fill="#4d4d4d">d</text>
<text x="604.90" y="708.30" font-size="12.3" text-anchor="middle" fill="#4d4d4d">e</text>
<text x="573.00" y="727.20" font-size="12.5" text-anchor="middle" fill="#4d4d4d">condition</text>
<defs><radialGradient id="g0"><stop offset="0" stop-color="#f2ae90"/><stop offset="0.66" stop-color="#f2ae90"/><stop offset="1" stop-color="#f2ae90" stop-opacity="0"/></radialGradient><radialGradient id="g1"><stop offset="0" stop-color="#f0a888"/><stop offset="0.66" stop-color="#f0a888"/><stop offset="1" stop-color="#f0a888" stop-opacity="0"/></radialGradient><radialGradient id="g2"><stop offset="0" stop-color="#eb9352"/><stop offset="0.66" stop-color="#eb9352"/><stop offset="1" stop-color="#eb9352" stop-opacity="0"/></radialGradient><radialGradient id="g3"><stop offset="0" stop-color="#c9d9a2"/><stop offset="0.66" stop-color="#c9d9a2"/><stop offset="1" stop-color="#c9d9a2" stop-opacity="0"/></radialGradient><radialGradient id="g4"><stop offset="0" stop-color="#1d89bc"/><stop offset="0.66" stop-color="#1d89bc"/><stop offset="1" stop-color="#1d89bc" stop-opacity="0"/></radialGradient><radialGradient id="g5"><stop offset="0" stop-color="#8756bb"/><stop offset="0.66" stop-color="#8756bb"/><stop offset="1" stop-color="#8756bb" stop-opacity="0"/></radialGradient><radialGradient id="g6"><stop offset="0" stop-color="#e05858"/><stop offset="0.66" stop-color="#e05858"/><stop offset="1" stop-color="#e05858" stop-opacity="0"/></radialGradient><radialGradient id="g7"><stop offset="0" stop-color="#b8ca8c"/><stop offset="0.66" stop-color="#b8ca8c"/><stop offset="1" stop-color="#b8ca8c" stop-opacity="0"/></radialGradient><radialGradient id="g8"><stop offset="0" stop-color="#8b5dbc"/><stop offset="0.66" stop-color="#8b5dbc"/><stop offset="1" stop-color="#8b5dbc" stop-opacity="0"/></radialGradient><radialGradient id="g9"><stop offset="0" stop-color="#a98acc"/><stop offset="0.66" stop-color="#a98acc"/><stop offset="1" stop-color="#a98acc" stop-opacity="0"/></radialGradient><linearGradient id="cb" x1="0" y1="0" x2="0" y2="1">
<stop offset="0.00" stop-color="#67001f"/>
<stop offset="0.10" stop-color="#b2182b"/>
<stop offset="0.20" stop-color="#d6604d"/>
<stop offset="0.30" stop-color="#f4a582"/>
<stop offset="0.40" stop-color="#fddbc7"/>
<stop offset="0.50" stop-color="#f7f7f7"/>
<stop offset="0.60" stop-color="#d1e5f0"/>
<stop offset="0.70" stop-color="#92c5de"/>
<stop offset="0.80" stop-color="#4393c3"/>
<stop offset="0.90" stop-color="#2166ac"/>
<stop offset="1.00" stop-color="#053061"/>
</linearGradient></defs>
<rect x="624.3" y="384.3" width="10.4" height="202.5" fill="url(#cb)"/>
<text x="619.50" y="376.00" font-size="9.6" text-anchor="start" fill="#000">z-score</text>
<line x1="634.0" y1="405.0" x2="638.9" y2="405.0" stroke="#333" stroke-width="1"/>
<text x="642.30" y="408.42" font-size="9.5" text-anchor="start" fill="#333">6</text>
<line x1="634.0" y1="432.0" x2="638.9" y2="432.0" stroke="#333" stroke-width="1"/>
<text x="642.30" y="435.38" font-size="9.5" text-anchor="start" fill="#333">4</text>
<line x1="634.0" y1="458.9" x2="638.9" y2="458.9" stroke="#333" stroke-width="1"/>
<text x="642.30" y="462.34" font-size="9.5" text-anchor="start" fill="#333">2</text>
<line x1="634.0" y1="485.9" x2="638.9" y2="485.9" stroke="#333" stroke-width="1"/>
<text x="642.30" y="489.30" font-size="9.5" text-anchor="start" fill="#333">0</text>
<line x1="634.0" y1="512.9" x2="638.9" y2="512.9" stroke="#333" stroke-width="1"/>
<text x="642.30" y="516.26" font-size="9.5" text-anchor="start" fill="#333">−2</text>
<line x1="634.0" y1="539.8" x2="638.9" y2="539.8" stroke="#333" stroke-width="1"/>
<text x="642.30" y="543.22" font-size="9.5" text-anchor="start" fill="#333">−4</text>
<line x1="634.0" y1="566.8" x2="638.9" y2="566.8" stroke="#333" stroke-width="1"/>
<text x="642.30" y="570.18" font-size="9.5" text-anchor="start" fill="#333">−6</text>
</svg></div></body></html>
